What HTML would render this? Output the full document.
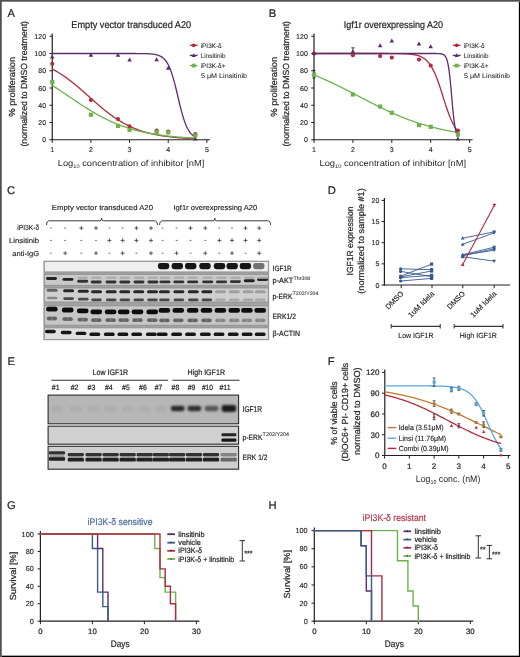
<!DOCTYPE html>
<html><head><meta charset="utf-8"><style>
html,body{margin:0;padding:0;background:#fff;}
#wrap{position:relative;width:520px;height:657px;overflow:hidden;background:#fff;}
svg{position:absolute;left:0;top:0;will-change:transform;}
text{font-family:"Liberation Sans", sans-serif;text-rendering:geometricPrecision;}
</style></head><body><div id="wrap">
<svg width="520" height="657" viewBox="0 0 520 657">
<rect x="0" y="0" width="520" height="657" fill="#fff"/>
<text x="7.60" y="17.00" font-size="11.20" fill="#231f20" stroke="#231f20" stroke-width="0.22" >A</text>
<text x="268.80" y="17.00" font-size="11.20" fill="#231f20" stroke="#231f20" stroke-width="0.22" >B</text>
<text x="7.00" y="193.80" font-size="11.20" fill="#231f20" stroke="#231f20" stroke-width="0.22" >C</text>
<text x="327.80" y="193.60" font-size="11.20" fill="#231f20" stroke="#231f20" stroke-width="0.22" >D</text>
<text x="7.40" y="365.20" font-size="11.20" fill="#231f20" stroke="#231f20" stroke-width="0.22" >E</text>
<text x="327.80" y="365.00" font-size="11.20" fill="#231f20" stroke="#231f20" stroke-width="0.22" >F</text>
<text x="7.00" y="509.40" font-size="11.20" fill="#231f20" stroke="#231f20" stroke-width="0.22" >G</text>
<text x="268.60" y="509.40" font-size="11.20" fill="#231f20" stroke="#231f20" stroke-width="0.22" >H</text>
<text x="71.30" y="28.20" font-size="9.80" fill="#231f20" stroke="#231f20" stroke-width="0.22" textLength="119.80" lengthAdjust="spacingAndGlyphs" >Empty vector transduced A20</text>
<line x1="52.25" y1="33.50" x2="52.25" y2="140.35" stroke="#231f20" stroke-width="1.2" />
<line x1="49.45" y1="139.75" x2="52.25" y2="139.75" stroke="#231f20" stroke-width="1" />
<text x="46.05" y="142.25" font-size="7.00" fill="#231f20" stroke="#231f20" stroke-width="0.14" text-anchor="end" >0</text>
<line x1="49.45" y1="122.50" x2="52.25" y2="122.50" stroke="#231f20" stroke-width="1" />
<text x="46.05" y="125.00" font-size="7.00" fill="#231f20" stroke="#231f20" stroke-width="0.14" text-anchor="end" >20</text>
<line x1="49.45" y1="105.25" x2="52.25" y2="105.25" stroke="#231f20" stroke-width="1" />
<text x="46.05" y="107.75" font-size="7.00" fill="#231f20" stroke="#231f20" stroke-width="0.14" text-anchor="end" >40</text>
<line x1="49.45" y1="88.00" x2="52.25" y2="88.00" stroke="#231f20" stroke-width="1" />
<text x="46.05" y="90.50" font-size="7.00" fill="#231f20" stroke="#231f20" stroke-width="0.14" text-anchor="end" >60</text>
<line x1="49.45" y1="70.75" x2="52.25" y2="70.75" stroke="#231f20" stroke-width="1" />
<text x="46.05" y="73.25" font-size="7.00" fill="#231f20" stroke="#231f20" stroke-width="0.14" text-anchor="end" >80</text>
<line x1="49.45" y1="53.50" x2="52.25" y2="53.50" stroke="#231f20" stroke-width="1" />
<text x="46.05" y="56.00" font-size="7.00" fill="#231f20" stroke="#231f20" stroke-width="0.14" text-anchor="end" >100</text>
<line x1="49.45" y1="36.25" x2="52.25" y2="36.25" stroke="#231f20" stroke-width="1" />
<text x="46.05" y="38.75" font-size="7.00" fill="#231f20" stroke="#231f20" stroke-width="0.14" text-anchor="end" >120</text>
<line x1="51.65" y1="139.75" x2="209.89" y2="139.75" stroke="#231f20" stroke-width="1.2" />
<line x1="52.25" y1="139.75" x2="52.25" y2="142.95" stroke="#231f20" stroke-width="1" />
<text x="52.25" y="152.00" font-size="7.00" fill="#231f20" stroke="#231f20" stroke-width="0.14" text-anchor="middle" >1</text>
<line x1="90.91" y1="139.75" x2="90.91" y2="142.95" stroke="#231f20" stroke-width="1" />
<text x="90.91" y="152.00" font-size="7.00" fill="#231f20" stroke="#231f20" stroke-width="0.14" text-anchor="middle" >2</text>
<line x1="129.57" y1="139.75" x2="129.57" y2="142.95" stroke="#231f20" stroke-width="1" />
<text x="129.57" y="152.00" font-size="7.00" fill="#231f20" stroke="#231f20" stroke-width="0.14" text-anchor="middle" >3</text>
<line x1="168.23" y1="139.75" x2="168.23" y2="142.95" stroke="#231f20" stroke-width="1" />
<text x="168.23" y="152.00" font-size="7.00" fill="#231f20" stroke="#231f20" stroke-width="0.14" text-anchor="middle" >4</text>
<line x1="206.89" y1="139.75" x2="206.89" y2="142.95" stroke="#231f20" stroke-width="1" />
<text x="206.89" y="152.00" font-size="7.00" fill="#231f20" stroke="#231f20" stroke-width="0.14" text-anchor="middle" >5</text>
<text x="57.75" y="166" font-size="8.6" fill="#231f20" textLength="146.6" lengthAdjust="spacingAndGlyphs">Log<tspan font-size="5.2" dy="2">10</tspan><tspan dy="-2"> concentration of inhibitor [nM]</tspan></text>
<text x="15.25" y="86.80" font-size="8.80" fill="#231f20" stroke="#231f20" stroke-width="0.22" text-anchor="middle" textLength="60.00" lengthAdjust="spacingAndGlyphs" transform="rotate(-90 15.25 86.80)" >% proliferation</text>
<text x="27.25" y="83.80" font-size="8.80" fill="#231f20" stroke="#231f20" stroke-width="0.22" text-anchor="middle" textLength="125.50" lengthAdjust="spacingAndGlyphs" transform="rotate(-90 27.25 83.80)" >(normalized to DMSO treatment)</text>
<path d="M52.25,68.97 L53.02,69.39 L53.80,69.80 L54.57,70.23 L55.34,70.67 L56.12,71.11 L56.89,71.57 L57.66,72.03 L58.44,72.50 L59.21,72.97 L59.98,73.46 L60.76,73.96 L61.53,74.46 L62.30,74.97 L63.07,75.49 L63.85,76.02 L64.62,76.56 L65.39,77.10 L66.17,77.65 L66.94,78.22 L67.71,78.78 L68.49,79.36 L69.26,79.94 L70.03,80.53 L70.81,81.13 L71.58,81.74 L72.35,82.35 L73.13,82.96 L73.90,83.59 L74.67,84.22 L75.45,84.85 L76.22,85.50 L76.99,86.14 L77.77,86.79 L78.54,87.45 L79.31,88.11 L80.09,88.78 L80.86,89.45 L81.63,90.12 L82.40,90.79 L83.18,91.47 L83.95,92.16 L84.72,92.84 L85.50,93.52 L86.27,94.21 L87.04,94.90 L87.82,95.59 L88.59,96.28 L89.36,96.97 L90.14,97.66 L90.91,98.35 L91.68,99.04 L92.46,99.73 L93.23,100.41 L94.00,101.09 L94.78,101.78 L95.55,102.46 L96.32,103.13 L97.10,103.80 L97.87,104.47 L98.64,105.14 L99.42,105.80 L100.19,106.46 L100.96,107.11 L101.73,107.75 L102.51,108.40 L103.28,109.03 L104.05,109.66 L104.83,110.29 L105.60,110.90 L106.37,111.51 L107.15,112.12 L107.92,112.72 L108.69,113.31 L109.47,113.89 L110.24,114.47 L111.01,115.03 L111.79,115.60 L112.56,116.15 L113.33,116.69 L114.11,117.23 L114.88,117.76 L115.65,118.28 L116.43,118.79 L117.20,119.29 L117.97,119.79 L118.75,120.28 L119.52,120.75 L120.29,121.22 L121.06,121.68 L121.84,122.14 L122.61,122.58 L123.38,123.02 L124.16,123.45 L124.93,123.86 L125.70,124.28 L126.48,124.68 L127.25,125.07 L128.02,125.46 L128.80,125.83 L129.57,126.20 L130.34,126.57 L131.12,126.92 L131.89,127.26 L132.66,127.60 L133.44,127.93 L134.21,128.26 L134.98,128.57 L135.76,128.88 L136.53,129.18 L137.30,129.47 L138.08,129.76 L138.85,130.04 L139.62,130.31 L140.39,130.58 L141.17,130.83 L141.94,131.09 L142.71,131.33 L143.49,131.57 L144.26,131.81 L145.03,132.04 L145.81,132.26 L146.58,132.47 L147.35,132.68 L148.13,132.89 L148.90,133.09 L149.67,133.28 L150.45,133.47 L151.22,133.65 L151.99,133.83 L152.77,134.01 L153.54,134.18 L154.31,134.34 L155.09,134.50 L155.86,134.66 L156.63,134.81 L157.41,134.96 L158.18,135.10 L158.95,135.24 L159.72,135.37 L160.50,135.50 L161.27,135.63 L162.04,135.75 L162.82,135.87 L163.59,135.99 L164.36,136.10 L165.14,136.21 L165.91,136.32 L166.68,136.43 L167.46,136.53 L168.23,136.62 L169.00,136.72 L169.78,136.81 L170.55,136.90 L171.32,136.99 L172.10,137.07 L172.87,137.15 L173.64,137.23 L174.42,137.31 L175.19,137.38 L175.96,137.46 L176.74,137.53 L177.51,137.60 L178.28,137.66 L179.05,137.73 L179.83,137.79 L180.60,137.85 L181.37,137.91 L182.15,137.96 L182.92,138.02 L183.69,138.07 L184.47,138.13 L185.24,138.18 L186.01,138.22 L186.79,138.27 L187.56,138.32 L188.33,138.36 L189.11,138.40 L189.88,138.45 L190.65,138.49 L191.43,138.53 L192.20,138.56 L192.97,138.60 L193.75,138.64 L194.52,138.67 L195.29,138.70" stroke="#b22a3e" stroke-width="1.3" fill="none" />
<path d="M52.25,85.43 L53.02,85.92 L53.80,86.41 L54.57,86.90 L55.34,87.40 L56.12,87.90 L56.89,88.41 L57.66,88.91 L58.44,89.42 L59.21,89.93 L59.98,90.44 L60.76,90.95 L61.53,91.47 L62.30,91.99 L63.07,92.50 L63.85,93.02 L64.62,93.54 L65.39,94.06 L66.17,94.59 L66.94,95.11 L67.71,95.63 L68.49,96.15 L69.26,96.68 L70.03,97.20 L70.81,97.72 L71.58,98.25 L72.35,98.77 L73.13,99.29 L73.90,99.81 L74.67,100.33 L75.45,100.85 L76.22,101.37 L76.99,101.88 L77.77,102.40 L78.54,102.91 L79.31,103.42 L80.09,103.93 L80.86,104.44 L81.63,104.94 L82.40,105.45 L83.18,105.95 L83.95,106.44 L84.72,106.94 L85.50,107.43 L86.27,107.92 L87.04,108.41 L87.82,108.89 L88.59,109.37 L89.36,109.84 L90.14,110.32 L90.91,110.79 L91.68,111.25 L92.46,111.71 L93.23,112.17 L94.00,112.62 L94.78,113.07 L95.55,113.52 L96.32,113.96 L97.10,114.39 L97.87,114.83 L98.64,115.25 L99.42,115.68 L100.19,116.10 L100.96,116.51 L101.73,116.92 L102.51,117.33 L103.28,117.73 L104.05,118.12 L104.83,118.51 L105.60,118.90 L106.37,119.28 L107.15,119.66 L107.92,120.03 L108.69,120.39 L109.47,120.76 L110.24,121.11 L111.01,121.47 L111.79,121.81 L112.56,122.16 L113.33,122.49 L114.11,122.83 L114.88,123.15 L115.65,123.48 L116.43,123.79 L117.20,124.11 L117.97,124.42 L118.75,124.72 L119.52,125.02 L120.29,125.31 L121.06,125.60 L121.84,125.89 L122.61,126.17 L123.38,126.44 L124.16,126.71 L124.93,126.98 L125.70,127.24 L126.48,127.50 L127.25,127.75 L128.02,128.00 L128.80,128.24 L129.57,128.48 L130.34,128.72 L131.12,128.95 L131.89,129.18 L132.66,129.40 L133.44,129.62 L134.21,129.83 L134.98,130.05 L135.76,130.25 L136.53,130.46 L137.30,130.66 L138.08,130.85 L138.85,131.04 L139.62,131.23 L140.39,131.42 L141.17,131.60 L141.94,131.77 L142.71,131.95 L143.49,132.12 L144.26,132.29 L145.03,132.45 L145.81,132.61 L146.58,132.77 L147.35,132.92 L148.13,133.07 L148.90,133.22 L149.67,133.37 L150.45,133.51 L151.22,133.65 L151.99,133.78 L152.77,133.92 L153.54,134.05 L154.31,134.17 L155.09,134.30 L155.86,134.42 L156.63,134.54 L157.41,134.66 L158.18,134.77 L158.95,134.89 L159.72,135.00 L160.50,135.11 L161.27,135.21 L162.04,135.31 L162.82,135.42 L163.59,135.51 L164.36,135.61 L165.14,135.71 L165.91,135.80 L166.68,135.89 L167.46,135.98 L168.23,136.06 L169.00,136.15 L169.78,136.23 L170.55,136.31 L171.32,136.39 L172.10,136.47 L172.87,136.54 L173.64,136.62 L174.42,136.69 L175.19,136.76 L175.96,136.83 L176.74,136.90 L177.51,136.96 L178.28,137.03 L179.05,137.09 L179.83,137.15 L180.60,137.21 L181.37,137.27 L182.15,137.33 L182.92,137.39 L183.69,137.44 L184.47,137.50 L185.24,137.55 L186.01,137.60 L186.79,137.65 L187.56,137.70 L188.33,137.75 L189.11,137.80 L189.88,137.84 L190.65,137.89 L191.43,137.93 L192.20,137.97 L192.97,138.01 L193.75,138.06 L194.52,138.09 L195.29,138.13" stroke="#6db24a" stroke-width="1.3" fill="none" />
<path d="M52.25,53.50 L53.02,53.50 L53.80,53.50 L54.57,53.50 L55.34,53.50 L56.12,53.50 L56.89,53.50 L57.66,53.50 L58.44,53.50 L59.21,53.50 L59.98,53.50 L60.76,53.50 L61.53,53.50 L62.30,53.50 L63.07,53.50 L63.85,53.50 L64.62,53.50 L65.39,53.50 L66.17,53.50 L66.94,53.50 L67.71,53.50 L68.49,53.50 L69.26,53.50 L70.03,53.50 L70.81,53.50 L71.58,53.50 L72.35,53.50 L73.13,53.50 L73.90,53.50 L74.67,53.50 L75.45,53.50 L76.22,53.50 L76.99,53.50 L77.77,53.50 L78.54,53.50 L79.31,53.50 L80.09,53.50 L80.86,53.50 L81.63,53.50 L82.40,53.50 L83.18,53.50 L83.95,53.50 L84.72,53.50 L85.50,53.50 L86.27,53.50 L87.04,53.50 L87.82,53.50 L88.59,53.50 L89.36,53.50 L90.14,53.50 L90.91,53.50 L91.68,53.50 L92.46,53.50 L93.23,53.50 L94.00,53.50 L94.78,53.50 L95.55,53.50 L96.32,53.50 L97.10,53.50 L97.87,53.50 L98.64,53.50 L99.42,53.50 L100.19,53.50 L100.96,53.50 L101.73,53.50 L102.51,53.50 L103.28,53.50 L104.05,53.50 L104.83,53.50 L105.60,53.50 L106.37,53.50 L107.15,53.50 L107.92,53.50 L108.69,53.50 L109.47,53.50 L110.24,53.50 L111.01,53.50 L111.79,53.50 L112.56,53.50 L113.33,53.50 L114.11,53.50 L114.88,53.50 L115.65,53.50 L116.43,53.50 L117.20,53.50 L117.97,53.50 L118.75,53.50 L119.52,53.50 L120.29,53.50 L121.06,53.50 L121.84,53.50 L122.61,53.50 L123.38,53.50 L124.16,53.50 L124.93,53.50 L125.70,53.50 L126.48,53.50 L127.25,53.50 L128.02,53.50 L128.80,53.51 L129.57,53.51 L130.34,53.51 L131.12,53.51 L131.89,53.51 L132.66,53.51 L133.44,53.51 L134.21,53.52 L134.98,53.52 L135.76,53.52 L136.53,53.53 L137.30,53.53 L138.08,53.53 L138.85,53.54 L139.62,53.55 L140.39,53.55 L141.17,53.56 L141.94,53.57 L142.71,53.59 L143.49,53.60 L144.26,53.62 L145.03,53.63 L145.81,53.66 L146.58,53.68 L147.35,53.71 L148.13,53.75 L148.90,53.79 L149.67,53.84 L150.45,53.89 L151.22,53.95 L151.99,54.03 L152.77,54.11 L153.54,54.21 L154.31,54.33 L155.09,54.46 L155.86,54.62 L156.63,54.80 L157.41,55.01 L158.18,55.25 L158.95,55.53 L159.72,55.86 L160.50,56.23 L161.27,56.67 L162.04,57.16 L162.82,57.74 L163.59,58.39 L164.36,59.14 L165.14,60.00 L165.91,60.97 L166.68,62.08 L167.46,63.32 L168.23,64.73 L169.00,66.29 L169.78,68.04 L170.55,69.97 L171.32,72.09 L172.10,74.40 L172.87,76.90 L173.64,79.58 L174.42,82.43 L175.19,85.42 L175.96,88.53 L176.74,91.73 L177.51,94.99 L178.28,98.26 L179.05,101.52 L179.83,104.72 L180.60,107.83 L181.37,110.82 L182.15,113.67 L182.92,116.35 L183.69,118.85 L184.47,121.16 L185.24,123.28 L186.01,125.21 L186.79,126.96 L187.56,128.52 L188.33,129.93 L189.11,131.17 L189.88,132.28 L190.65,133.25 L191.43,134.11 L192.20,134.86 L192.97,135.51 L193.75,136.09 L194.52,136.58 L195.29,137.02" stroke="#5b2c6f" stroke-width="1.3" fill="none" />
<circle cx="52.25" cy="63.85" r="2.1" fill="#b22a3e"/>
<circle cx="90.91" cy="100.07" r="2.1" fill="#b22a3e"/>
<circle cx="117.97" cy="119.05" r="2.1" fill="#b22a3e"/>
<circle cx="129.57" cy="126.38" r="2.1" fill="#b22a3e"/>
<circle cx="156.63" cy="130.69" r="2.1" fill="#b22a3e"/>
<circle cx="168.23" cy="131.56" r="2.1" fill="#b22a3e"/>
<circle cx="195.29" cy="134.14" r="2.1" fill="#b22a3e"/>
<path d="M49.95,58.55 L54.55,58.55 L52.25,54.55 Z" fill="#5b2c6f"/>
<path d="M88.61,56.82 L93.21,56.82 L90.91,52.82 Z" fill="#5b2c6f"/>
<path d="M115.67,56.82 L120.27,56.82 L117.97,52.82 Z" fill="#5b2c6f"/>
<path d="M127.27,61.57 L131.87,61.57 L129.57,57.57 Z" fill="#5b2c6f"/>
<path d="M154.33,61.14 L158.93,61.14 L156.63,57.14 Z" fill="#5b2c6f"/>
<path d="M165.93,69.76 L170.53,69.76 L168.23,65.76 Z" fill="#5b2c6f"/>
<path d="M192.99,140.49 L197.59,140.49 L195.29,136.49 Z" fill="#5b2c6f"/>
<rect x="50.15" y="79.86" width="4.20" height="4.20" fill="#6db24a" stroke="none" stroke-width="0" />
<rect x="88.81" y="112.64" width="4.20" height="4.20" fill="#6db24a" stroke="none" stroke-width="0" />
<rect x="115.87" y="123.85" width="4.20" height="4.20" fill="#6db24a" stroke="none" stroke-width="0" />
<rect x="127.47" y="127.73" width="4.20" height="4.20" fill="#6db24a" stroke="none" stroke-width="0" />
<rect x="154.53" y="129.89" width="4.20" height="4.20" fill="#6db24a" stroke="none" stroke-width="0" />
<rect x="166.13" y="130.32" width="4.20" height="4.20" fill="#6db24a" stroke="none" stroke-width="0" />
<rect x="193.19" y="133.34" width="4.20" height="4.20" fill="#6db24a" stroke="none" stroke-width="0" />
<line x1="189.80" y1="45.30" x2="197.60" y2="45.30" stroke="#b22a3e" stroke-width="1.3" />
<circle cx="193.70" cy="45.30" r="1.9" fill="#b22a3e"/>
<text x="200.70" y="47.60" font-size="6.40" fill="#231f20" stroke="#231f20" stroke-width="0.06" >iPI3K-&#948;</text>
<line x1="189.80" y1="55.40" x2="197.60" y2="55.40" stroke="#5b2c6f" stroke-width="1.3" />
<path d="M191.60,56.90 L195.80,56.90 L193.70,53.20 Z" fill="#5b2c6f"/>
<text x="200.70" y="57.70" font-size="6.40" fill="#231f20" stroke="#231f20" stroke-width="0.06" >Linsitinib</text>
<line x1="189.80" y1="65.60" x2="197.60" y2="65.60" stroke="#6db24a" stroke-width="1.3" />
<rect x="191.80" y="63.70" width="3.80" height="3.80" fill="#6db24a" stroke="none" stroke-width="0" />
<text x="200.70" y="67.90" font-size="6.40" fill="#231f20" stroke="#231f20" stroke-width="0.06" >iPI3K-&#948;+</text>
<text x="201.00" y="77.60" font-size="6.40" fill="#231f20" stroke="#231f20" stroke-width="0.06" textLength="46.00" lengthAdjust="spacingAndGlyphs" >5 &#956;M Linsitinib</text>
<text x="343.75" y="27.60" font-size="9.80" fill="#231f20" stroke="#231f20" stroke-width="0.22" textLength="99.25" lengthAdjust="spacingAndGlyphs" >Igf1r overexpressing A20</text>
<line x1="314.00" y1="33.50" x2="314.00" y2="140.35" stroke="#231f20" stroke-width="1.2" />
<line x1="311.20" y1="139.75" x2="314.00" y2="139.75" stroke="#231f20" stroke-width="1" />
<text x="307.80" y="142.25" font-size="7.00" fill="#231f20" stroke="#231f20" stroke-width="0.14" text-anchor="end" >0</text>
<line x1="311.20" y1="122.50" x2="314.00" y2="122.50" stroke="#231f20" stroke-width="1" />
<text x="307.80" y="125.00" font-size="7.00" fill="#231f20" stroke="#231f20" stroke-width="0.14" text-anchor="end" >20</text>
<line x1="311.20" y1="105.25" x2="314.00" y2="105.25" stroke="#231f20" stroke-width="1" />
<text x="307.80" y="107.75" font-size="7.00" fill="#231f20" stroke="#231f20" stroke-width="0.14" text-anchor="end" >40</text>
<line x1="311.20" y1="88.00" x2="314.00" y2="88.00" stroke="#231f20" stroke-width="1" />
<text x="307.80" y="90.50" font-size="7.00" fill="#231f20" stroke="#231f20" stroke-width="0.14" text-anchor="end" >60</text>
<line x1="311.20" y1="70.75" x2="314.00" y2="70.75" stroke="#231f20" stroke-width="1" />
<text x="307.80" y="73.25" font-size="7.00" fill="#231f20" stroke="#231f20" stroke-width="0.14" text-anchor="end" >80</text>
<line x1="311.20" y1="53.50" x2="314.00" y2="53.50" stroke="#231f20" stroke-width="1" />
<text x="307.80" y="56.00" font-size="7.00" fill="#231f20" stroke="#231f20" stroke-width="0.14" text-anchor="end" >100</text>
<line x1="311.20" y1="36.25" x2="314.00" y2="36.25" stroke="#231f20" stroke-width="1" />
<text x="307.80" y="38.75" font-size="7.00" fill="#231f20" stroke="#231f20" stroke-width="0.14" text-anchor="end" >120</text>
<line x1="313.40" y1="139.75" x2="472.60" y2="139.75" stroke="#231f20" stroke-width="1.2" />
<line x1="314.00" y1="139.75" x2="314.00" y2="142.95" stroke="#231f20" stroke-width="1" />
<text x="314.00" y="152.00" font-size="7.00" fill="#231f20" stroke="#231f20" stroke-width="0.14" text-anchor="middle" >1</text>
<line x1="352.90" y1="139.75" x2="352.90" y2="142.95" stroke="#231f20" stroke-width="1" />
<text x="352.90" y="152.00" font-size="7.00" fill="#231f20" stroke="#231f20" stroke-width="0.14" text-anchor="middle" >2</text>
<line x1="391.80" y1="139.75" x2="391.80" y2="142.95" stroke="#231f20" stroke-width="1" />
<text x="391.80" y="152.00" font-size="7.00" fill="#231f20" stroke="#231f20" stroke-width="0.14" text-anchor="middle" >3</text>
<line x1="430.70" y1="139.75" x2="430.70" y2="142.95" stroke="#231f20" stroke-width="1" />
<text x="430.70" y="152.00" font-size="7.00" fill="#231f20" stroke="#231f20" stroke-width="0.14" text-anchor="middle" >4</text>
<line x1="469.60" y1="139.75" x2="469.60" y2="142.95" stroke="#231f20" stroke-width="1" />
<text x="469.60" y="152.00" font-size="7.00" fill="#231f20" stroke="#231f20" stroke-width="0.14" text-anchor="middle" >5</text>
<text x="319.50" y="166" font-size="8.6" fill="#231f20" textLength="146.6" lengthAdjust="spacingAndGlyphs">Log<tspan font-size="5.2" dy="2">10</tspan><tspan dy="-2"> concentration of inhibitor [nM]</tspan></text>
<text x="277.00" y="86.80" font-size="8.80" fill="#231f20" stroke="#231f20" stroke-width="0.22" text-anchor="middle" textLength="60.00" lengthAdjust="spacingAndGlyphs" transform="rotate(-90 277.00 86.80)" >% proliferation</text>
<text x="289.00" y="83.80" font-size="8.80" fill="#231f20" stroke="#231f20" stroke-width="0.22" text-anchor="middle" textLength="125.50" lengthAdjust="spacingAndGlyphs" transform="rotate(-90 289.00 83.80)" >(normalized to DMSO treatment)</text>
<path d="M314.00,75.07 L314.78,75.38 L315.56,75.69 L316.33,76.00 L317.11,76.31 L317.89,76.63 L318.67,76.95 L319.45,77.27 L320.22,77.60 L321.00,77.93 L321.78,78.26 L322.56,78.59 L323.34,78.93 L324.11,79.27 L324.89,79.61 L325.67,79.95 L326.45,80.30 L327.23,80.65 L328.00,81.00 L328.78,81.35 L329.56,81.71 L330.34,82.07 L331.12,82.43 L331.89,82.79 L332.67,83.16 L333.45,83.53 L334.23,83.90 L335.01,84.27 L335.78,84.64 L336.56,85.02 L337.34,85.40 L338.12,85.78 L338.90,86.16 L339.67,86.54 L340.45,86.92 L341.23,87.31 L342.01,87.70 L342.79,88.09 L343.56,88.48 L344.34,88.87 L345.12,89.27 L345.90,89.66 L346.68,90.06 L347.45,90.45 L348.23,90.85 L349.01,91.25 L349.79,91.65 L350.57,92.05 L351.34,92.45 L352.12,92.86 L352.90,93.26 L353.68,93.66 L354.46,94.07 L355.23,94.47 L356.01,94.88 L356.79,95.29 L357.57,95.69 L358.35,96.10 L359.12,96.50 L359.90,96.91 L360.68,97.32 L361.46,97.72 L362.24,98.13 L363.01,98.53 L363.79,98.94 L364.57,99.34 L365.35,99.75 L366.13,100.15 L366.90,100.55 L367.68,100.96 L368.46,101.36 L369.24,101.76 L370.02,102.16 L370.79,102.56 L371.57,102.96 L372.35,103.35 L373.13,103.75 L373.91,104.14 L374.68,104.54 L375.46,104.93 L376.24,105.32 L377.02,105.71 L377.80,106.09 L378.57,106.48 L379.35,106.86 L380.13,107.25 L380.91,107.63 L381.69,108.01 L382.46,108.38 L383.24,108.76 L384.02,109.13 L384.80,109.50 L385.58,109.87 L386.35,110.24 L387.13,110.60 L387.91,110.96 L388.69,111.32 L389.47,111.68 L390.24,112.04 L391.02,112.39 L391.80,112.74 L392.58,113.09 L393.36,113.43 L394.13,113.78 L394.91,114.12 L395.69,114.46 L396.47,114.79 L397.25,115.12 L398.02,115.45 L398.80,115.78 L399.58,116.11 L400.36,116.43 L401.14,116.75 L401.91,117.06 L402.69,117.38 L403.47,117.69 L404.25,118.00 L405.03,118.30 L405.80,118.60 L406.58,118.90 L407.36,119.20 L408.14,119.49 L408.92,119.78 L409.69,120.07 L410.47,120.35 L411.25,120.64 L412.03,120.91 L412.81,121.19 L413.58,121.46 L414.36,121.73 L415.14,122.00 L415.92,122.26 L416.70,122.53 L417.47,122.78 L418.25,123.04 L419.03,123.29 L419.81,123.54 L420.59,123.79 L421.36,124.03 L422.14,124.27 L422.92,124.51 L423.70,124.74 L424.48,124.98 L425.25,125.21 L426.03,125.43 L426.81,125.66 L427.59,125.88 L428.37,126.09 L429.14,126.31 L429.92,126.52 L430.70,126.73 L431.48,126.94 L432.26,127.14 L433.03,127.34 L433.81,127.54 L434.59,127.74 L435.37,127.93 L436.15,128.12 L436.92,128.31 L437.70,128.50 L438.48,128.68 L439.26,128.86 L440.04,129.04 L440.81,129.21 L441.59,129.39 L442.37,129.56 L443.15,129.72 L443.93,129.89 L444.70,130.05 L445.48,130.21 L446.26,130.37 L447.04,130.53 L447.82,130.68 L448.59,130.83 L449.37,130.98 L450.15,131.13 L450.93,131.28 L451.71,131.42 L452.48,131.56 L453.26,131.70 L454.04,131.84 L454.82,131.97 L455.60,132.10 L456.37,132.23 L457.15,132.36 L457.93,132.49" stroke="#6db24a" stroke-width="1.3" fill="none" />
<path d="M314.00,53.50 L314.78,53.50 L315.56,53.50 L316.33,53.50 L317.11,53.50 L317.89,53.50 L318.67,53.50 L319.45,53.50 L320.22,53.50 L321.00,53.50 L321.78,53.50 L322.56,53.50 L323.34,53.50 L324.11,53.50 L324.89,53.50 L325.67,53.50 L326.45,53.50 L327.23,53.50 L328.00,53.50 L328.78,53.50 L329.56,53.50 L330.34,53.50 L331.12,53.50 L331.89,53.50 L332.67,53.50 L333.45,53.50 L334.23,53.50 L335.01,53.50 L335.78,53.50 L336.56,53.50 L337.34,53.50 L338.12,53.50 L338.90,53.50 L339.67,53.50 L340.45,53.50 L341.23,53.50 L342.01,53.50 L342.79,53.50 L343.56,53.50 L344.34,53.50 L345.12,53.50 L345.90,53.50 L346.68,53.50 L347.45,53.50 L348.23,53.50 L349.01,53.50 L349.79,53.50 L350.57,53.50 L351.34,53.50 L352.12,53.50 L352.90,53.50 L353.68,53.50 L354.46,53.50 L355.23,53.50 L356.01,53.50 L356.79,53.50 L357.57,53.50 L358.35,53.50 L359.12,53.50 L359.90,53.50 L360.68,53.50 L361.46,53.50 L362.24,53.50 L363.01,53.50 L363.79,53.50 L364.57,53.50 L365.35,53.50 L366.13,53.50 L366.90,53.50 L367.68,53.50 L368.46,53.50 L369.24,53.50 L370.02,53.50 L370.79,53.50 L371.57,53.50 L372.35,53.50 L373.13,53.50 L373.91,53.50 L374.68,53.50 L375.46,53.50 L376.24,53.50 L377.02,53.51 L377.80,53.51 L378.57,53.51 L379.35,53.51 L380.13,53.51 L380.91,53.51 L381.69,53.51 L382.46,53.51 L383.24,53.51 L384.02,53.51 L384.80,53.52 L385.58,53.52 L386.35,53.52 L387.13,53.52 L387.91,53.53 L388.69,53.53 L389.47,53.53 L390.24,53.54 L391.02,53.54 L391.80,53.55 L392.58,53.55 L393.36,53.56 L394.13,53.56 L394.91,53.57 L395.69,53.58 L396.47,53.59 L397.25,53.60 L398.02,53.61 L398.80,53.63 L399.58,53.64 L400.36,53.66 L401.14,53.68 L401.91,53.70 L402.69,53.73 L403.47,53.75 L404.25,53.78 L405.03,53.82 L405.80,53.86 L406.58,53.90 L407.36,53.95 L408.14,54.00 L408.92,54.06 L409.69,54.13 L410.47,54.20 L411.25,54.29 L412.03,54.38 L412.81,54.49 L413.58,54.61 L414.36,54.74 L415.14,54.89 L415.92,55.06 L416.70,55.24 L417.47,55.45 L418.25,55.68 L419.03,55.94 L419.81,56.22 L420.59,56.54 L421.36,56.90 L422.14,57.29 L422.92,57.73 L423.70,58.22 L424.48,58.76 L425.25,59.35 L426.03,60.01 L426.81,60.73 L427.59,61.53 L428.37,62.41 L429.14,63.36 L429.92,64.41 L430.70,65.55 L431.48,66.79 L432.26,68.13 L433.03,69.58 L433.81,71.13 L434.59,72.80 L435.37,74.57 L436.15,76.45 L436.92,78.43 L437.70,80.51 L438.48,82.68 L439.26,84.93 L440.04,87.26 L440.81,89.64 L441.59,92.07 L442.37,94.52 L443.15,97.00 L443.93,99.46 L444.70,101.91 L445.48,104.33 L446.26,106.70 L447.04,109.00 L447.82,111.23 L448.59,113.38 L449.37,115.43 L450.15,117.38 L450.93,119.23 L451.71,120.97 L452.48,122.60 L453.26,124.12 L454.04,125.53 L454.82,126.84 L455.60,128.05 L456.37,129.16 L457.15,130.18 L457.93,131.11" stroke="#b22a3e" stroke-width="1.3" fill="none" />
<path d="M314.00,53.50 L314.78,53.50 L315.56,53.50 L316.33,53.50 L317.11,53.50 L317.89,53.50 L318.67,53.50 L319.45,53.50 L320.22,53.50 L321.00,53.50 L321.78,53.50 L322.56,53.50 L323.34,53.50 L324.11,53.50 L324.89,53.50 L325.67,53.50 L326.45,53.50 L327.23,53.50 L328.00,53.50 L328.78,53.50 L329.56,53.50 L330.34,53.50 L331.12,53.50 L331.89,53.50 L332.67,53.50 L333.45,53.50 L334.23,53.50 L335.01,53.50 L335.78,53.50 L336.56,53.50 L337.34,53.50 L338.12,53.50 L338.90,53.50 L339.67,53.50 L340.45,53.50 L341.23,53.50 L342.01,53.50 L342.79,53.50 L343.56,53.50 L344.34,53.50 L345.12,53.50 L345.90,53.50 L346.68,53.50 L347.45,53.50 L348.23,53.50 L349.01,53.50 L349.79,53.50 L350.57,53.50 L351.34,53.50 L352.12,53.50 L352.90,53.50 L353.68,53.50 L354.46,53.50 L355.23,53.50 L356.01,53.50 L356.79,53.50 L357.57,53.50 L358.35,53.50 L359.12,53.50 L359.90,53.50 L360.68,53.50 L361.46,53.50 L362.24,53.50 L363.01,53.50 L363.79,53.50 L364.57,53.50 L365.35,53.50 L366.13,53.50 L366.90,53.50 L367.68,53.50 L368.46,53.50 L369.24,53.50 L370.02,53.50 L370.79,53.50 L371.57,53.50 L372.35,53.50 L373.13,53.50 L373.91,53.50 L374.68,53.50 L375.46,53.50 L376.24,53.50 L377.02,53.50 L377.80,53.50 L378.57,53.50 L379.35,53.50 L380.13,53.50 L380.91,53.50 L381.69,53.50 L382.46,53.50 L383.24,53.50 L384.02,53.50 L384.80,53.50 L385.58,53.50 L386.35,53.50 L387.13,53.50 L387.91,53.50 L388.69,53.50 L389.47,53.50 L390.24,53.50 L391.02,53.50 L391.80,53.50 L392.58,53.50 L393.36,53.50 L394.13,53.50 L394.91,53.50 L395.69,53.50 L396.47,53.50 L397.25,53.50 L398.02,53.50 L398.80,53.50 L399.58,53.50 L400.36,53.50 L401.14,53.50 L401.91,53.50 L402.69,53.50 L403.47,53.50 L404.25,53.50 L405.03,53.50 L405.80,53.50 L406.58,53.50 L407.36,53.50 L408.14,53.50 L408.92,53.50 L409.69,53.50 L410.47,53.50 L411.25,53.50 L412.03,53.50 L412.81,53.50 L413.58,53.50 L414.36,53.50 L415.14,53.50 L415.92,53.50 L416.70,53.50 L417.47,53.50 L418.25,53.50 L419.03,53.50 L419.81,53.50 L420.59,53.50 L421.36,53.50 L422.14,53.50 L422.92,53.50 L423.70,53.50 L424.48,53.50 L425.25,53.50 L426.03,53.50 L426.81,53.50 L427.59,53.50 L428.37,53.50 L429.14,53.50 L429.92,53.50 L430.70,53.50 L431.48,53.50 L432.26,53.50 L433.03,53.50 L433.81,53.51 L434.59,53.51 L435.37,53.51 L436.15,53.52 L436.92,53.53 L437.70,53.55 L438.48,53.58 L439.26,53.61 L440.04,53.67 L440.81,53.76 L441.59,53.89 L442.37,54.09 L443.15,54.39 L443.93,54.85 L444.70,55.52 L445.48,56.52 L446.26,57.99 L447.04,60.12 L447.82,63.14 L448.59,67.30 L449.37,72.81 L450.15,79.71 L450.93,87.81 L451.71,96.62 L452.48,105.44 L453.26,113.54 L454.04,120.44 L454.82,125.95 L455.60,130.11 L456.37,133.13 L457.15,135.26 L457.93,136.73" stroke="#5b2c6f" stroke-width="1.3" fill="none" />
<line x1="314.00" y1="70.32" x2="314.00" y2="78.08" stroke="#333" stroke-width="0.9" />
<line x1="312.40" y1="70.32" x2="315.60" y2="70.32" stroke="#333" stroke-width="0.9" />
<line x1="312.40" y1="78.08" x2="315.60" y2="78.08" stroke="#333" stroke-width="0.9" />
<line x1="352.90" y1="47.81" x2="352.90" y2="53.07" stroke="#333" stroke-width="0.9" />
<line x1="351.30" y1="47.81" x2="354.50" y2="47.81" stroke="#333" stroke-width="0.9" />
<line x1="351.30" y1="53.07" x2="354.50" y2="53.07" stroke="#333" stroke-width="0.9" />
<rect x="311.90" y="72.53" width="4.20" height="4.20" fill="#6db24a" stroke="none" stroke-width="0" />
<rect x="350.80" y="92.37" width="4.20" height="4.20" fill="#6db24a" stroke="none" stroke-width="0" />
<rect x="378.03" y="104.44" width="4.20" height="4.20" fill="#6db24a" stroke="none" stroke-width="0" />
<rect x="389.70" y="110.65" width="4.20" height="4.20" fill="#6db24a" stroke="none" stroke-width="0" />
<rect x="416.93" y="122.99" width="4.20" height="4.20" fill="#6db24a" stroke="none" stroke-width="0" />
<rect x="428.60" y="124.71" width="4.20" height="4.20" fill="#6db24a" stroke="none" stroke-width="0" />
<rect x="455.83" y="132.47" width="4.20" height="4.20" fill="#6db24a" stroke="none" stroke-width="0" />
<circle cx="314.00" cy="53.50" r="2.1" fill="#b22a3e"/>
<circle cx="352.90" cy="55.22" r="2.1" fill="#b22a3e"/>
<circle cx="380.13" cy="56.09" r="2.1" fill="#b22a3e"/>
<circle cx="391.80" cy="57.55" r="2.1" fill="#b22a3e"/>
<circle cx="419.03" cy="59.54" r="2.1" fill="#b22a3e"/>
<circle cx="430.70" cy="65.58" r="2.1" fill="#b22a3e"/>
<circle cx="457.93" cy="130.52" r="2.1" fill="#b22a3e"/>
<path d="M311.70,55.10 L316.30,55.10 L314.00,51.10 Z" fill="#5b2c6f"/>
<path d="M350.60,53.37 L355.20,53.37 L352.90,49.37 Z" fill="#5b2c6f"/>
<path d="M377.83,47.34 L382.43,47.34 L380.13,43.34 Z" fill="#5b2c6f"/>
<path d="M389.50,42.59 L394.10,42.59 L391.80,38.59 Z" fill="#5b2c6f"/>
<path d="M416.73,45.61 L421.33,45.61 L419.03,41.61 Z" fill="#5b2c6f"/>
<path d="M428.40,48.20 L433.00,48.20 L430.70,44.20 Z" fill="#5b2c6f"/>
<path d="M455.63,140.49 L460.23,140.49 L457.93,136.49 Z" fill="#5b2c6f"/>
<line x1="452.80" y1="45.30" x2="460.60" y2="45.30" stroke="#b22a3e" stroke-width="1.3" />
<circle cx="456.70" cy="45.30" r="1.9" fill="#b22a3e"/>
<text x="463.70" y="47.60" font-size="6.40" fill="#231f20" stroke="#231f20" stroke-width="0.06" >iPI3K-&#948;</text>
<line x1="452.80" y1="55.40" x2="460.60" y2="55.40" stroke="#5b2c6f" stroke-width="1.3" />
<path d="M454.60,56.90 L458.80,56.90 L456.70,53.20 Z" fill="#5b2c6f"/>
<text x="463.70" y="57.70" font-size="6.40" fill="#231f20" stroke="#231f20" stroke-width="0.06" >Linsitinib</text>
<line x1="452.80" y1="65.60" x2="460.60" y2="65.60" stroke="#6db24a" stroke-width="1.3" />
<rect x="454.80" y="63.70" width="3.80" height="3.80" fill="#6db24a" stroke="none" stroke-width="0" />
<text x="463.70" y="67.90" font-size="6.40" fill="#231f20" stroke="#231f20" stroke-width="0.06" >iPI3K-&#948;+</text>
<text x="464.00" y="77.60" font-size="6.40" fill="#231f20" stroke="#231f20" stroke-width="0.06" textLength="46.00" lengthAdjust="spacingAndGlyphs" >5 &#956;M Linsitinib</text>
<text x="51.80" y="210.30" font-size="7.30" fill="#231f20" stroke="#231f20" stroke-width="0.14" textLength="101.20" lengthAdjust="spacingAndGlyphs" >Empty vector transduced A20</text>
<text x="173.50" y="210.30" font-size="7.30" fill="#231f20" stroke="#231f20" stroke-width="0.14" textLength="83.70" lengthAdjust="spacingAndGlyphs" >Igf1r overexpressing A20</text>
<path d="M46.60,225.00 Q46.60,220.80 49.60,220.80 L99.80,220.80 Q101.60,220.80 101.60,218.20 Q101.60,220.80 103.40,220.80 L154.40,220.80 Q157.40,220.80 157.40,225.00" stroke="#3a3a3a" stroke-width="1.0" fill="none" />
<path d="M159.60,225.00 Q159.60,220.80 162.60,220.80 L213.00,220.80 Q214.80,220.80 214.80,218.20 Q214.80,220.80 216.60,220.80 L267.60,220.80 Q270.60,220.80 270.60,225.00" stroke="#3a3a3a" stroke-width="1.0" fill="none" />
<text x="17.20" y="230.40" font-size="7.10" fill="#231f20" stroke="#231f20" stroke-width="0.14" textLength="22.00" lengthAdjust="spacingAndGlyphs" >iPI3K-&#948;</text>
<line x1="49.90" y1="228.10" x2="51.70" y2="228.10" stroke="#444" stroke-width="0.8" />
<line x1="64.30" y1="228.10" x2="66.10" y2="228.10" stroke="#444" stroke-width="0.8" />
<line x1="79.30" y1="228.10" x2="83.30" y2="228.10" stroke="#333" stroke-width="0.8" />
<line x1="81.30" y1="226.10" x2="81.30" y2="230.10" stroke="#333" stroke-width="0.8" />
<line x1="94.00" y1="228.10" x2="98.00" y2="228.10" stroke="#333" stroke-width="0.8" />
<line x1="96.00" y1="226.10" x2="96.00" y2="230.10" stroke="#333" stroke-width="0.8" />
<line x1="108.50" y1="228.10" x2="110.30" y2="228.10" stroke="#444" stroke-width="0.8" />
<line x1="121.70" y1="228.10" x2="123.50" y2="228.10" stroke="#444" stroke-width="0.8" />
<line x1="134.40" y1="228.10" x2="138.40" y2="228.10" stroke="#333" stroke-width="0.8" />
<line x1="136.40" y1="226.10" x2="136.40" y2="230.10" stroke="#333" stroke-width="0.8" />
<line x1="149.00" y1="228.10" x2="153.00" y2="228.10" stroke="#333" stroke-width="0.8" />
<line x1="151.00" y1="226.10" x2="151.00" y2="230.10" stroke="#333" stroke-width="0.8" />
<line x1="161.70" y1="228.10" x2="163.50" y2="228.10" stroke="#444" stroke-width="0.8" />
<line x1="175.70" y1="228.10" x2="177.50" y2="228.10" stroke="#444" stroke-width="0.8" />
<line x1="188.50" y1="228.10" x2="192.50" y2="228.10" stroke="#333" stroke-width="0.8" />
<line x1="190.50" y1="226.10" x2="190.50" y2="230.10" stroke="#333" stroke-width="0.8" />
<line x1="203.30" y1="228.10" x2="207.30" y2="228.10" stroke="#333" stroke-width="0.8" />
<line x1="205.30" y1="226.10" x2="205.30" y2="230.10" stroke="#333" stroke-width="0.8" />
<line x1="218.50" y1="228.10" x2="220.30" y2="228.10" stroke="#444" stroke-width="0.8" />
<line x1="231.10" y1="228.10" x2="232.90" y2="228.10" stroke="#444" stroke-width="0.8" />
<line x1="243.50" y1="228.10" x2="247.50" y2="228.10" stroke="#333" stroke-width="0.8" />
<line x1="245.50" y1="226.10" x2="245.50" y2="230.10" stroke="#333" stroke-width="0.8" />
<line x1="257.20" y1="228.10" x2="261.20" y2="228.10" stroke="#333" stroke-width="0.8" />
<line x1="259.20" y1="226.10" x2="259.20" y2="230.10" stroke="#333" stroke-width="0.8" />
<text x="8.90" y="242.70" font-size="7.10" fill="#231f20" stroke="#231f20" stroke-width="0.14" textLength="30.30" lengthAdjust="spacingAndGlyphs" >Linsitinib</text>
<line x1="49.90" y1="240.40" x2="51.70" y2="240.40" stroke="#444" stroke-width="0.8" />
<line x1="64.30" y1="240.40" x2="66.10" y2="240.40" stroke="#444" stroke-width="0.8" />
<line x1="80.40" y1="240.40" x2="82.20" y2="240.40" stroke="#444" stroke-width="0.8" />
<line x1="95.10" y1="240.40" x2="96.90" y2="240.40" stroke="#444" stroke-width="0.8" />
<line x1="107.40" y1="240.40" x2="111.40" y2="240.40" stroke="#333" stroke-width="0.8" />
<line x1="109.40" y1="238.40" x2="109.40" y2="242.40" stroke="#333" stroke-width="0.8" />
<line x1="120.60" y1="240.40" x2="124.60" y2="240.40" stroke="#333" stroke-width="0.8" />
<line x1="122.60" y1="238.40" x2="122.60" y2="242.40" stroke="#333" stroke-width="0.8" />
<line x1="134.40" y1="240.40" x2="138.40" y2="240.40" stroke="#333" stroke-width="0.8" />
<line x1="136.40" y1="238.40" x2="136.40" y2="242.40" stroke="#333" stroke-width="0.8" />
<line x1="149.00" y1="240.40" x2="153.00" y2="240.40" stroke="#333" stroke-width="0.8" />
<line x1="151.00" y1="238.40" x2="151.00" y2="242.40" stroke="#333" stroke-width="0.8" />
<line x1="161.70" y1="240.40" x2="163.50" y2="240.40" stroke="#444" stroke-width="0.8" />
<line x1="175.70" y1="240.40" x2="177.50" y2="240.40" stroke="#444" stroke-width="0.8" />
<line x1="189.60" y1="240.40" x2="191.40" y2="240.40" stroke="#444" stroke-width="0.8" />
<line x1="204.40" y1="240.40" x2="206.20" y2="240.40" stroke="#444" stroke-width="0.8" />
<line x1="217.40" y1="240.40" x2="221.40" y2="240.40" stroke="#333" stroke-width="0.8" />
<line x1="219.40" y1="238.40" x2="219.40" y2="242.40" stroke="#333" stroke-width="0.8" />
<line x1="230.00" y1="240.40" x2="234.00" y2="240.40" stroke="#333" stroke-width="0.8" />
<line x1="232.00" y1="238.40" x2="232.00" y2="242.40" stroke="#333" stroke-width="0.8" />
<line x1="243.50" y1="240.40" x2="247.50" y2="240.40" stroke="#333" stroke-width="0.8" />
<line x1="245.50" y1="238.40" x2="245.50" y2="242.40" stroke="#333" stroke-width="0.8" />
<line x1="257.20" y1="240.40" x2="261.20" y2="240.40" stroke="#333" stroke-width="0.8" />
<line x1="259.20" y1="238.40" x2="259.20" y2="242.40" stroke="#333" stroke-width="0.8" />
<text x="12.30" y="255.50" font-size="7.10" fill="#231f20" stroke="#231f20" stroke-width="0.14" textLength="26.90" lengthAdjust="spacingAndGlyphs" >anti-IgG</text>
<line x1="49.90" y1="253.20" x2="51.70" y2="253.20" stroke="#444" stroke-width="0.8" />
<line x1="63.20" y1="253.20" x2="67.20" y2="253.20" stroke="#333" stroke-width="0.8" />
<line x1="65.20" y1="251.20" x2="65.20" y2="255.20" stroke="#333" stroke-width="0.8" />
<line x1="80.40" y1="253.20" x2="82.20" y2="253.20" stroke="#444" stroke-width="0.8" />
<line x1="94.00" y1="253.20" x2="98.00" y2="253.20" stroke="#333" stroke-width="0.8" />
<line x1="96.00" y1="251.20" x2="96.00" y2="255.20" stroke="#333" stroke-width="0.8" />
<line x1="108.50" y1="253.20" x2="110.30" y2="253.20" stroke="#444" stroke-width="0.8" />
<line x1="120.60" y1="253.20" x2="124.60" y2="253.20" stroke="#333" stroke-width="0.8" />
<line x1="122.60" y1="251.20" x2="122.60" y2="255.20" stroke="#333" stroke-width="0.8" />
<line x1="135.50" y1="253.20" x2="137.30" y2="253.20" stroke="#444" stroke-width="0.8" />
<line x1="149.00" y1="253.20" x2="153.00" y2="253.20" stroke="#333" stroke-width="0.8" />
<line x1="151.00" y1="251.20" x2="151.00" y2="255.20" stroke="#333" stroke-width="0.8" />
<line x1="161.70" y1="253.20" x2="163.50" y2="253.20" stroke="#444" stroke-width="0.8" />
<line x1="174.60" y1="253.20" x2="178.60" y2="253.20" stroke="#333" stroke-width="0.8" />
<line x1="176.60" y1="251.20" x2="176.60" y2="255.20" stroke="#333" stroke-width="0.8" />
<line x1="189.60" y1="253.20" x2="191.40" y2="253.20" stroke="#444" stroke-width="0.8" />
<line x1="203.30" y1="253.20" x2="207.30" y2="253.20" stroke="#333" stroke-width="0.8" />
<line x1="205.30" y1="251.20" x2="205.30" y2="255.20" stroke="#333" stroke-width="0.8" />
<line x1="218.50" y1="253.20" x2="220.30" y2="253.20" stroke="#444" stroke-width="0.8" />
<line x1="230.00" y1="253.20" x2="234.00" y2="253.20" stroke="#333" stroke-width="0.8" />
<line x1="232.00" y1="251.20" x2="232.00" y2="255.20" stroke="#333" stroke-width="0.8" />
<line x1="244.60" y1="253.20" x2="246.40" y2="253.20" stroke="#444" stroke-width="0.8" />
<line x1="257.20" y1="253.20" x2="261.20" y2="253.20" stroke="#333" stroke-width="0.8" />
<line x1="259.20" y1="251.20" x2="259.20" y2="255.20" stroke="#333" stroke-width="0.8" />
<defs><filter id="bl0" x="-50%" y="-100%" width="200%" height="300%"><feGaussianBlur stdDeviation="0.5"/></filter><filter id="bl1" x="-50%" y="-100%" width="200%" height="300%"><feGaussianBlur stdDeviation="0.7"/></filter><filter id="bl2" x="-50%" y="-100%" width="200%" height="300%"><feGaussianBlur stdDeviation="1.0"/></filter></defs>
<rect x="43.40" y="260.60" width="225.80" height="79.60" fill="#a2a2a2" stroke="none" stroke-width="0" />
<rect x="44.30" y="261.40" width="224.00" height="10.50" fill="#efefef" stroke="#8c8c8c" stroke-width="0.8" />
<rect x="44.30" y="274.30" width="224.00" height="11.00" fill="#c9c9c9" stroke="#8c8c8c" stroke-width="0.8" />
<rect x="44.30" y="288.00" width="224.00" height="14.00" fill="#cfcfcf" stroke="#8c8c8c" stroke-width="0.8" />
<rect x="44.30" y="305.80" width="224.00" height="19.40" fill="#c6c6c6" stroke="#8c8c8c" stroke-width="0.8" />
<rect x="44.30" y="327.90" width="224.00" height="11.50" fill="#e0e0e0" stroke="#8c8c8c" stroke-width="0.8" />
<rect x="157.90" y="263.00" width="11.40" height="6.20" rx="2.4" fill="#151515" filter="url(#bl0)"/>
<rect x="171.60" y="263.00" width="11.40" height="6.20" rx="2.4" fill="#151515" filter="url(#bl0)"/>
<rect x="185.00" y="263.00" width="11.40" height="6.20" rx="2.4" fill="#151515" filter="url(#bl0)"/>
<rect x="199.30" y="263.00" width="11.40" height="6.20" rx="2.4" fill="#151515" filter="url(#bl0)"/>
<rect x="213.80" y="263.00" width="11.40" height="6.20" rx="2.4" fill="#151515" filter="url(#bl0)"/>
<rect x="226.50" y="263.00" width="11.40" height="6.20" rx="2.4" fill="#151515" filter="url(#bl0)"/>
<rect x="239.70" y="263.00" width="11.40" height="6.20" rx="2.4" fill="#151515" filter="url(#bl0)"/>
<rect x="253.10" y="263.00" width="11.40" height="6.20" rx="2.4" fill="#727272" filter="url(#bl0)"/>
<rect x="46.00" y="277.05" width="11.00" height="2.90" rx="1.6" fill="#222222" filter="url(#bl0)"/>
<rect x="62.50" y="277.95" width="11.00" height="2.90" rx="1.6" fill="#222222" filter="url(#bl0)"/>
<rect x="77.20" y="279.75" width="11.00" height="2.90" rx="1.6" fill="#313131" filter="url(#bl0)"/>
<rect x="77.50" y="276.80" width="10.40" height="2.00" rx="1.6" fill="#a8a8a8" filter="url(#bl0)"/>
<rect x="90.70" y="280.55" width="11.00" height="2.90" rx="1.6" fill="#313131" filter="url(#bl0)"/>
<rect x="91.00" y="276.80" width="10.40" height="2.00" rx="1.6" fill="#a8a8a8" filter="url(#bl0)"/>
<rect x="105.50" y="280.55" width="11.00" height="2.90" rx="1.6" fill="#313131" filter="url(#bl0)"/>
<rect x="105.80" y="276.80" width="10.40" height="2.00" rx="1.6" fill="#a8a8a8" filter="url(#bl0)"/>
<rect x="119.30" y="280.55" width="11.00" height="2.90" rx="1.6" fill="#313131" filter="url(#bl0)"/>
<rect x="119.60" y="276.80" width="10.40" height="2.00" rx="1.6" fill="#a8a8a8" filter="url(#bl0)"/>
<rect x="133.50" y="280.55" width="11.00" height="2.90" rx="1.6" fill="#313131" filter="url(#bl0)"/>
<rect x="133.80" y="276.80" width="10.40" height="2.00" rx="1.6" fill="#a8a8a8" filter="url(#bl0)"/>
<rect x="147.40" y="280.55" width="11.00" height="2.90" rx="1.6" fill="#313131" filter="url(#bl0)"/>
<rect x="147.70" y="276.80" width="10.40" height="2.00" rx="1.6" fill="#a8a8a8" filter="url(#bl0)"/>
<rect x="159.50" y="280.45" width="11.00" height="2.90" rx="1.6" fill="#313131" filter="url(#bl0)"/>
<rect x="159.80" y="276.80" width="10.40" height="2.00" rx="1.6" fill="#a8a8a8" filter="url(#bl0)"/>
<rect x="173.40" y="280.45" width="11.00" height="2.90" rx="1.6" fill="#313131" filter="url(#bl0)"/>
<rect x="173.70" y="276.80" width="10.40" height="2.00" rx="1.6" fill="#a8a8a8" filter="url(#bl0)"/>
<rect x="187.20" y="280.45" width="11.00" height="2.90" rx="1.6" fill="#313131" filter="url(#bl0)"/>
<rect x="187.50" y="276.80" width="10.40" height="2.00" rx="1.6" fill="#a8a8a8" filter="url(#bl0)"/>
<rect x="202.20" y="280.45" width="11.00" height="2.90" rx="1.6" fill="#313131" filter="url(#bl0)"/>
<rect x="202.50" y="276.80" width="10.40" height="2.00" rx="1.6" fill="#a8a8a8" filter="url(#bl0)"/>
<rect x="216.00" y="280.45" width="11.00" height="2.90" rx="1.6" fill="#313131" filter="url(#bl0)"/>
<rect x="216.30" y="276.80" width="10.40" height="2.00" rx="1.6" fill="#a8a8a8" filter="url(#bl0)"/>
<rect x="229.90" y="280.15" width="11.00" height="2.90" rx="1.6" fill="#313131" filter="url(#bl0)"/>
<rect x="230.20" y="276.80" width="10.40" height="2.00" rx="1.6" fill="#a8a8a8" filter="url(#bl0)"/>
<rect x="243.80" y="279.35" width="11.00" height="2.90" rx="1.6" fill="#222222" filter="url(#bl0)"/>
<rect x="244.10" y="276.80" width="10.40" height="2.00" rx="1.6" fill="#a8a8a8" filter="url(#bl0)"/>
<rect x="257.00" y="278.15" width="11.00" height="2.90" rx="1.6" fill="#222222" filter="url(#bl0)"/>
<rect x="257.30" y="276.80" width="10.40" height="2.00" rx="1.6" fill="#a8a8a8" filter="url(#bl0)"/>
<rect x="46.60" y="288.70" width="11.00" height="3.00" rx="1.6" fill="#636363" filter="url(#bl0)"/>
<rect x="46.80" y="296.65" width="10.60" height="2.70" rx="1.6" fill="#878787" filter="url(#bl0)"/>
<rect x="63.10" y="289.23" width="11.00" height="3.00" rx="1.6" fill="#262626" filter="url(#bl0)"/>
<rect x="63.30" y="297.25" width="10.60" height="2.70" rx="1.6" fill="#474747" filter="url(#bl0)"/>
<rect x="77.80" y="289.77" width="11.00" height="3.00" rx="1.6" fill="#262626" filter="url(#bl0)"/>
<rect x="78.00" y="297.85" width="10.60" height="2.70" rx="1.6" fill="#474747" filter="url(#bl0)"/>
<rect x="91.00" y="290.30" width="11.00" height="3.00" rx="1.6" fill="#262626" filter="url(#bl0)"/>
<rect x="91.20" y="298.45" width="10.60" height="2.70" rx="1.6" fill="#474747" filter="url(#bl0)"/>
<rect x="105.70" y="290.30" width="11.00" height="3.00" rx="1.6" fill="#262626" filter="url(#bl0)"/>
<rect x="105.90" y="298.45" width="10.60" height="2.70" rx="1.6" fill="#474747" filter="url(#bl0)"/>
<rect x="119.30" y="290.30" width="11.00" height="3.00" rx="1.6" fill="#262626" filter="url(#bl0)"/>
<rect x="119.50" y="298.45" width="10.60" height="2.70" rx="1.6" fill="#474747" filter="url(#bl0)"/>
<rect x="133.20" y="290.30" width="11.00" height="3.00" rx="1.6" fill="#262626" filter="url(#bl0)"/>
<rect x="133.40" y="298.45" width="10.60" height="2.70" rx="1.6" fill="#474747" filter="url(#bl0)"/>
<rect x="147.00" y="290.30" width="11.00" height="3.00" rx="1.6" fill="#262626" filter="url(#bl0)"/>
<rect x="147.20" y="298.45" width="10.60" height="2.70" rx="1.6" fill="#474747" filter="url(#bl0)"/>
<rect x="158.90" y="290.30" width="11.00" height="3.00" rx="1.6" fill="#262626" filter="url(#bl0)"/>
<rect x="159.10" y="298.45" width="10.60" height="2.70" rx="1.6" fill="#474747" filter="url(#bl0)"/>
<rect x="173.40" y="290.30" width="11.00" height="3.00" rx="1.6" fill="#262626" filter="url(#bl0)"/>
<rect x="173.60" y="298.45" width="10.60" height="2.70" rx="1.6" fill="#474747" filter="url(#bl0)"/>
<rect x="187.80" y="290.30" width="11.00" height="3.00" rx="1.6" fill="#262626" filter="url(#bl0)"/>
<rect x="188.00" y="298.45" width="10.60" height="2.70" rx="1.6" fill="#474747" filter="url(#bl0)"/>
<rect x="201.40" y="290.30" width="11.00" height="3.00" rx="1.6" fill="#262626" filter="url(#bl0)"/>
<rect x="201.60" y="298.45" width="10.60" height="2.70" rx="1.6" fill="#474747" filter="url(#bl0)"/>
<rect x="214.90" y="290.30" width="11.00" height="3.00" rx="1.6" fill="#9f9f9f" filter="url(#bl0)"/>
<rect x="215.10" y="298.45" width="10.60" height="2.70" rx="1.6" fill="#a8a8a8" filter="url(#bl0)"/>
<rect x="228.70" y="290.30" width="11.00" height="3.00" rx="1.6" fill="#9f9f9f" filter="url(#bl0)"/>
<rect x="228.90" y="298.45" width="10.60" height="2.70" rx="1.6" fill="#a8a8a8" filter="url(#bl0)"/>
<rect x="242.60" y="290.30" width="11.00" height="3.00" rx="1.6" fill="#9f9f9f" filter="url(#bl0)"/>
<rect x="242.80" y="298.45" width="10.60" height="2.70" rx="1.6" fill="#a8a8a8" filter="url(#bl0)"/>
<rect x="254.70" y="290.30" width="11.00" height="3.00" rx="1.6" fill="#9f9f9f" filter="url(#bl0)"/>
<rect x="254.90" y="298.45" width="10.60" height="2.70" rx="1.6" fill="#a8a8a8" filter="url(#bl0)"/>
<rect x="46.10" y="306.70" width="11.60" height="4.80" rx="2.2" fill="#111111" filter="url(#bl0)"/>
<rect x="46.60" y="316.60" width="10.60" height="3.80" rx="1.8" fill="#777777" filter="url(#bl1)"/>
<rect x="47.30" y="317.00" width="4.00" height="3.00" rx="1.4" fill="#636363" filter="url(#bl1)"/>
<rect x="52.50" y="317.00" width="4.00" height="3.00" rx="1.4" fill="#636363" filter="url(#bl1)"/>
<rect x="61.90" y="307.60" width="11.60" height="4.80" rx="2.2" fill="#111111" filter="url(#bl0)"/>
<rect x="62.40" y="317.17" width="10.60" height="3.80" rx="1.8" fill="#777777" filter="url(#bl1)"/>
<rect x="63.10" y="317.57" width="4.00" height="3.00" rx="1.4" fill="#636363" filter="url(#bl1)"/>
<rect x="68.30" y="317.57" width="4.00" height="3.00" rx="1.4" fill="#636363" filter="url(#bl1)"/>
<rect x="76.90" y="308.50" width="11.60" height="4.80" rx="2.2" fill="#111111" filter="url(#bl0)"/>
<rect x="77.40" y="317.73" width="10.60" height="3.80" rx="1.8" fill="#777777" filter="url(#bl1)"/>
<rect x="78.10" y="318.13" width="4.00" height="3.00" rx="1.4" fill="#636363" filter="url(#bl1)"/>
<rect x="83.30" y="318.13" width="4.00" height="3.00" rx="1.4" fill="#636363" filter="url(#bl1)"/>
<rect x="90.50" y="309.40" width="11.60" height="4.80" rx="2.2" fill="#111111" filter="url(#bl0)"/>
<rect x="91.00" y="318.30" width="10.60" height="3.80" rx="1.8" fill="#777777" filter="url(#bl1)"/>
<rect x="91.70" y="318.70" width="4.00" height="3.00" rx="1.4" fill="#636363" filter="url(#bl1)"/>
<rect x="96.90" y="318.70" width="4.00" height="3.00" rx="1.4" fill="#636363" filter="url(#bl1)"/>
<rect x="104.80" y="309.40" width="11.60" height="4.80" rx="2.2" fill="#111111" filter="url(#bl0)"/>
<rect x="105.30" y="318.30" width="10.60" height="3.80" rx="1.8" fill="#777777" filter="url(#bl1)"/>
<rect x="106.00" y="318.70" width="4.00" height="3.00" rx="1.4" fill="#636363" filter="url(#bl1)"/>
<rect x="111.20" y="318.70" width="4.00" height="3.00" rx="1.4" fill="#636363" filter="url(#bl1)"/>
<rect x="117.90" y="309.40" width="11.60" height="4.80" rx="2.2" fill="#111111" filter="url(#bl0)"/>
<rect x="118.40" y="318.30" width="10.60" height="3.80" rx="1.8" fill="#777777" filter="url(#bl1)"/>
<rect x="119.10" y="318.70" width="4.00" height="3.00" rx="1.4" fill="#636363" filter="url(#bl1)"/>
<rect x="124.30" y="318.70" width="4.00" height="3.00" rx="1.4" fill="#636363" filter="url(#bl1)"/>
<rect x="131.70" y="309.40" width="11.60" height="4.80" rx="2.2" fill="#111111" filter="url(#bl0)"/>
<rect x="132.20" y="318.30" width="10.60" height="3.80" rx="1.8" fill="#777777" filter="url(#bl1)"/>
<rect x="132.90" y="318.70" width="4.00" height="3.00" rx="1.4" fill="#636363" filter="url(#bl1)"/>
<rect x="138.10" y="318.70" width="4.00" height="3.00" rx="1.4" fill="#636363" filter="url(#bl1)"/>
<rect x="146.40" y="309.40" width="11.60" height="4.80" rx="2.2" fill="#111111" filter="url(#bl0)"/>
<rect x="146.90" y="318.30" width="10.60" height="3.80" rx="1.8" fill="#777777" filter="url(#bl1)"/>
<rect x="147.60" y="318.70" width="4.00" height="3.00" rx="1.4" fill="#636363" filter="url(#bl1)"/>
<rect x="152.80" y="318.70" width="4.00" height="3.00" rx="1.4" fill="#636363" filter="url(#bl1)"/>
<rect x="158.60" y="308.00" width="11.60" height="4.80" rx="2.2" fill="#111111" filter="url(#bl0)"/>
<rect x="159.10" y="318.50" width="10.60" height="3.80" rx="1.8" fill="#777777" filter="url(#bl1)"/>
<rect x="159.80" y="318.90" width="4.00" height="3.00" rx="1.4" fill="#636363" filter="url(#bl1)"/>
<rect x="165.00" y="318.90" width="4.00" height="3.00" rx="1.4" fill="#636363" filter="url(#bl1)"/>
<rect x="172.50" y="308.00" width="11.60" height="4.80" rx="2.2" fill="#111111" filter="url(#bl0)"/>
<rect x="173.00" y="318.50" width="10.60" height="3.80" rx="1.8" fill="#777777" filter="url(#bl1)"/>
<rect x="173.70" y="318.90" width="4.00" height="3.00" rx="1.4" fill="#636363" filter="url(#bl1)"/>
<rect x="178.90" y="318.90" width="4.00" height="3.00" rx="1.4" fill="#636363" filter="url(#bl1)"/>
<rect x="186.90" y="308.00" width="11.60" height="4.80" rx="2.2" fill="#111111" filter="url(#bl0)"/>
<rect x="187.40" y="318.50" width="10.60" height="3.80" rx="1.8" fill="#777777" filter="url(#bl1)"/>
<rect x="188.10" y="318.90" width="4.00" height="3.00" rx="1.4" fill="#636363" filter="url(#bl1)"/>
<rect x="193.30" y="318.90" width="4.00" height="3.00" rx="1.4" fill="#636363" filter="url(#bl1)"/>
<rect x="200.70" y="308.00" width="11.60" height="4.80" rx="2.2" fill="#111111" filter="url(#bl0)"/>
<rect x="201.20" y="318.50" width="10.60" height="3.80" rx="1.8" fill="#777777" filter="url(#bl1)"/>
<rect x="201.90" y="318.90" width="4.00" height="3.00" rx="1.4" fill="#636363" filter="url(#bl1)"/>
<rect x="207.10" y="318.90" width="4.00" height="3.00" rx="1.4" fill="#636363" filter="url(#bl1)"/>
<rect x="214.60" y="308.00" width="11.60" height="4.80" rx="2.2" fill="#111111" filter="url(#bl0)"/>
<rect x="215.10" y="318.50" width="10.60" height="3.80" rx="1.8" fill="#969696" filter="url(#bl1)"/>
<rect x="215.80" y="318.90" width="4.00" height="3.00" rx="1.4" fill="#878787" filter="url(#bl1)"/>
<rect x="221.00" y="318.90" width="4.00" height="3.00" rx="1.4" fill="#878787" filter="url(#bl1)"/>
<rect x="228.40" y="308.00" width="11.60" height="4.80" rx="2.2" fill="#111111" filter="url(#bl0)"/>
<rect x="228.90" y="318.50" width="10.60" height="3.80" rx="1.8" fill="#969696" filter="url(#bl1)"/>
<rect x="229.60" y="318.90" width="4.00" height="3.00" rx="1.4" fill="#878787" filter="url(#bl1)"/>
<rect x="234.80" y="318.90" width="4.00" height="3.00" rx="1.4" fill="#878787" filter="url(#bl1)"/>
<rect x="241.10" y="308.00" width="11.60" height="4.80" rx="2.2" fill="#111111" filter="url(#bl0)"/>
<rect x="241.60" y="318.50" width="10.60" height="3.80" rx="1.8" fill="#969696" filter="url(#bl1)"/>
<rect x="242.30" y="318.90" width="4.00" height="3.00" rx="1.4" fill="#878787" filter="url(#bl1)"/>
<rect x="247.50" y="318.90" width="4.00" height="3.00" rx="1.4" fill="#878787" filter="url(#bl1)"/>
<rect x="254.40" y="308.00" width="11.60" height="4.80" rx="2.2" fill="#111111" filter="url(#bl0)"/>
<rect x="254.90" y="318.50" width="10.60" height="3.80" rx="1.8" fill="#969696" filter="url(#bl1)"/>
<rect x="255.60" y="318.90" width="4.00" height="3.00" rx="1.4" fill="#878787" filter="url(#bl1)"/>
<rect x="260.80" y="318.90" width="4.00" height="3.00" rx="1.4" fill="#878787" filter="url(#bl1)"/>
<rect x="45.00" y="329.80" width="10.80" height="3.40" rx="1.6" fill="#151515" filter="url(#bl0)"/>
<rect x="60.80" y="330.73" width="10.80" height="3.40" rx="1.6" fill="#151515" filter="url(#bl0)"/>
<rect x="75.60" y="331.67" width="10.80" height="3.40" rx="1.6" fill="#151515" filter="url(#bl0)"/>
<rect x="89.40" y="332.60" width="10.80" height="3.40" rx="1.6" fill="#151515" filter="url(#bl0)"/>
<rect x="103.90" y="332.60" width="10.80" height="3.40" rx="1.6" fill="#151515" filter="url(#bl0)"/>
<rect x="117.50" y="332.60" width="10.80" height="3.40" rx="1.6" fill="#151515" filter="url(#bl0)"/>
<rect x="131.30" y="332.60" width="10.80" height="3.40" rx="1.6" fill="#151515" filter="url(#bl0)"/>
<rect x="145.90" y="332.60" width="10.80" height="3.40" rx="1.6" fill="#151515" filter="url(#bl0)"/>
<rect x="156.80" y="332.60" width="10.80" height="3.40" rx="1.6" fill="#151515" filter="url(#bl0)"/>
<rect x="171.20" y="332.60" width="10.80" height="3.40" rx="1.6" fill="#151515" filter="url(#bl0)"/>
<rect x="185.10" y="332.60" width="10.80" height="3.40" rx="1.6" fill="#151515" filter="url(#bl0)"/>
<rect x="200.00" y="332.60" width="10.80" height="3.40" rx="1.6" fill="#151515" filter="url(#bl0)"/>
<rect x="213.60" y="332.60" width="10.80" height="3.40" rx="1.6" fill="#151515" filter="url(#bl0)"/>
<rect x="227.80" y="332.60" width="10.80" height="3.40" rx="1.6" fill="#151515" filter="url(#bl0)"/>
<rect x="241.70" y="332.60" width="10.80" height="3.40" rx="1.6" fill="#151515" filter="url(#bl0)"/>
<rect x="254.80" y="332.60" width="10.80" height="3.40" rx="1.6" fill="#151515" filter="url(#bl0)"/>
<text x="272.60" y="270.80" font-size="7.60" fill="#231f20" stroke="#231f20" stroke-width="0.22" textLength="19.20" lengthAdjust="spacingAndGlyphs" >IGF1R</text>
<text x="272.60" y="283.20" font-size="7.60" fill="#231f20" stroke="#231f20" stroke-width="0.22" textLength="20.60" lengthAdjust="spacingAndGlyphs" >p-AKT</text>
<text x="293.60" y="279.60" font-size="5.00" fill="#231f20" stroke="#231f20" stroke-width="0.06" textLength="16.70" lengthAdjust="spacingAndGlyphs" >Thr308</text>
<text x="272.60" y="298.80" font-size="7.60" fill="#231f20" stroke="#231f20" stroke-width="0.22" textLength="19.90" lengthAdjust="spacingAndGlyphs" >p-ERK</text>
<text x="292.60" y="295.00" font-size="5.00" fill="#231f20" stroke="#231f20" stroke-width="0.06" textLength="25.90" lengthAdjust="spacingAndGlyphs" >T202/Y204</text>
<text x="272.60" y="319.40" font-size="7.60" fill="#231f20" stroke="#231f20" stroke-width="0.22" textLength="23.30" lengthAdjust="spacingAndGlyphs" >ERK1/2</text>
<text x="272.60" y="336.10" font-size="7.60" fill="#231f20" stroke="#231f20" stroke-width="0.22" textLength="27.40" lengthAdjust="spacingAndGlyphs" >&#946;-ACTIN</text>
<line x1="384.40" y1="198.00" x2="384.40" y2="285.60" stroke="#231f20" stroke-width="1.2" />
<line x1="381.60" y1="285.00" x2="384.40" y2="285.00" stroke="#231f20" stroke-width="1" />
<text x="379.40" y="287.50" font-size="7.00" fill="#231f20" stroke="#231f20" stroke-width="0.14" text-anchor="end" >0</text>
<line x1="381.60" y1="263.85" x2="384.40" y2="263.85" stroke="#231f20" stroke-width="1" />
<text x="379.40" y="266.35" font-size="7.00" fill="#231f20" stroke="#231f20" stroke-width="0.14" text-anchor="end" >5</text>
<line x1="381.60" y1="242.70" x2="384.40" y2="242.70" stroke="#231f20" stroke-width="1" />
<text x="379.40" y="245.20" font-size="7.00" fill="#231f20" stroke="#231f20" stroke-width="0.14" text-anchor="end" >10</text>
<line x1="381.60" y1="221.55" x2="384.40" y2="221.55" stroke="#231f20" stroke-width="1" />
<text x="379.40" y="224.05" font-size="7.00" fill="#231f20" stroke="#231f20" stroke-width="0.14" text-anchor="end" >15</text>
<line x1="381.60" y1="200.40" x2="384.40" y2="200.40" stroke="#231f20" stroke-width="1" />
<text x="379.40" y="202.90" font-size="7.00" fill="#231f20" stroke="#231f20" stroke-width="0.14" text-anchor="end" >20</text>
<line x1="383.80" y1="285.00" x2="510.20" y2="285.00" stroke="#231f20" stroke-width="1.2" />
<line x1="401.20" y1="285.00" x2="401.20" y2="288.20" stroke="#231f20" stroke-width="1" />
<line x1="432.00" y1="285.00" x2="432.00" y2="288.20" stroke="#231f20" stroke-width="1" />
<line x1="462.80" y1="285.00" x2="462.80" y2="288.20" stroke="#231f20" stroke-width="1" />
<line x1="494.20" y1="285.00" x2="494.20" y2="288.20" stroke="#231f20" stroke-width="1" />
<text x="353.20" y="241.00" font-size="8.80" fill="#231f20" stroke="#231f20" stroke-width="0.22" text-anchor="middle" textLength="68.90" lengthAdjust="spacingAndGlyphs" transform="rotate(-90 353.20 241.00)" >IGF1R expression</text>
<text x="363.60" y="241.00" font-size="8.80" fill="#231f20" stroke="#231f20" stroke-width="0.22" text-anchor="middle" textLength="105.40" lengthAdjust="spacingAndGlyphs" transform="rotate(-90 363.60 241.00)" >(normalized to sample #1)</text>
<text x="404.00" y="294.30" font-size="7.40" fill="#231f20" stroke="#231f20" stroke-width="0.14" text-anchor="end" textLength="22.00" lengthAdjust="spacingAndGlyphs" transform="rotate(-45 404.00 294.30)" >DMSO</text>
<text x="434.80" y="294.30" font-size="7.40" fill="#231f20" stroke="#231f20" stroke-width="0.14" text-anchor="end" textLength="33.50" lengthAdjust="spacingAndGlyphs" transform="rotate(-45 434.80 294.30)" >1uM Idela</text>
<text x="465.60" y="294.30" font-size="7.40" fill="#231f20" stroke="#231f20" stroke-width="0.14" text-anchor="end" textLength="22.00" lengthAdjust="spacingAndGlyphs" transform="rotate(-45 465.60 294.30)" >DMSO</text>
<text x="497.00" y="294.30" font-size="7.40" fill="#231f20" stroke="#231f20" stroke-width="0.14" text-anchor="end" textLength="33.50" lengthAdjust="spacingAndGlyphs" transform="rotate(-45 497.00 294.30)" >1uM Idela</text>
<line x1="391.20" y1="326.30" x2="440.20" y2="326.30" stroke="#383838" stroke-width="1.3" />
<line x1="391.20" y1="324.00" x2="391.20" y2="328.60" stroke="#383838" stroke-width="1.1" />
<line x1="440.20" y1="324.00" x2="440.20" y2="328.60" stroke="#383838" stroke-width="1.1" />
<text x="398.30" y="338.00" font-size="7.40" fill="#231f20" stroke="#231f20" stroke-width="0.14" textLength="35.20" lengthAdjust="spacingAndGlyphs" >Low IGF1R</text>
<line x1="454.20" y1="326.30" x2="503.00" y2="326.30" stroke="#383838" stroke-width="1.3" />
<line x1="454.20" y1="324.00" x2="454.20" y2="328.60" stroke="#383838" stroke-width="1.1" />
<line x1="503.00" y1="324.00" x2="503.00" y2="328.60" stroke="#383838" stroke-width="1.1" />
<text x="459.80" y="338.00" font-size="7.40" fill="#231f20" stroke="#231f20" stroke-width="0.14" textLength="37.10" lengthAdjust="spacingAndGlyphs" >High IGF1R</text>
<line x1="400.60" y1="268.80" x2="431.60" y2="269.70" stroke="#355a8c" stroke-width="0.9" />
<circle cx="400.60" cy="268.80" r="1.6" fill="#355a8c"/>
<rect x="430.00" y="268.10" width="3.20" height="3.20" fill="#355a8c" stroke="none" stroke-width="0" />
<line x1="400.60" y1="271.40" x2="431.60" y2="276.60" stroke="#355a8c" stroke-width="0.9" />
<circle cx="400.60" cy="271.40" r="1.6" fill="#355a8c"/>
<rect x="430.00" y="275.00" width="3.20" height="3.20" fill="#355a8c" stroke="none" stroke-width="0" />
<line x1="400.60" y1="276.20" x2="431.60" y2="264.10" stroke="#355a8c" stroke-width="0.9" />
<circle cx="400.60" cy="276.20" r="1.6" fill="#355a8c"/>
<rect x="430.00" y="262.50" width="3.20" height="3.20" fill="#355a8c" stroke="none" stroke-width="0" />
<line x1="400.60" y1="277.70" x2="431.60" y2="275.30" stroke="#355a8c" stroke-width="0.9" />
<circle cx="400.60" cy="277.70" r="1.6" fill="#355a8c"/>
<rect x="430.00" y="273.70" width="3.20" height="3.20" fill="#355a8c" stroke="none" stroke-width="0" />
<line x1="400.60" y1="281.00" x2="431.60" y2="278.40" stroke="#355a8c" stroke-width="0.9" />
<circle cx="400.60" cy="281.00" r="1.6" fill="#355a8c"/>
<rect x="430.00" y="276.80" width="3.20" height="3.20" fill="#355a8c" stroke="none" stroke-width="0" />
<line x1="400.60" y1="276.90" x2="431.60" y2="271.00" stroke="#355a8c" stroke-width="0.9" />
<circle cx="400.60" cy="276.90" r="1.6" fill="#355a8c"/>
<rect x="430.00" y="269.40" width="3.20" height="3.20" fill="#355a8c" stroke="none" stroke-width="0" />
<line x1="462.70" y1="238.20" x2="494.20" y2="231.80" stroke="#355a8c" stroke-width="0.9" />
<path d="M460.80,239.60 L464.60,239.60 L462.70,236.30 Z" fill="#355a8c"/>
<path d="M492.30,230.40 L496.10,230.40 L494.20,233.70 Z" fill="#355a8c"/>
<line x1="462.70" y1="244.30" x2="494.20" y2="232.80" stroke="#355a8c" stroke-width="0.9" />
<path d="M460.80,245.70 L464.60,245.70 L462.70,242.40 Z" fill="#355a8c"/>
<path d="M492.30,231.40 L496.10,231.40 L494.20,234.70 Z" fill="#355a8c"/>
<line x1="462.70" y1="254.70" x2="494.20" y2="247.20" stroke="#355a8c" stroke-width="0.9" />
<path d="M460.80,256.10 L464.60,256.10 L462.70,252.80 Z" fill="#355a8c"/>
<path d="M492.30,245.80 L496.10,245.80 L494.20,249.10 Z" fill="#355a8c"/>
<line x1="462.70" y1="255.80" x2="494.20" y2="248.80" stroke="#355a8c" stroke-width="0.9" />
<path d="M460.80,257.20 L464.60,257.20 L462.70,253.90 Z" fill="#355a8c"/>
<path d="M492.30,247.40 L496.10,247.40 L494.20,250.70 Z" fill="#355a8c"/>
<line x1="462.70" y1="256.80" x2="494.20" y2="261.10" stroke="#355a8c" stroke-width="0.9" />
<path d="M460.80,258.20 L464.60,258.20 L462.70,254.90 Z" fill="#355a8c"/>
<path d="M492.30,259.70 L496.10,259.70 L494.20,263.00 Z" fill="#355a8c"/>
<line x1="462.70" y1="255.20" x2="494.20" y2="250.20" stroke="#355a8c" stroke-width="0.9" />
<path d="M460.80,256.60 L464.60,256.60 L462.70,253.30 Z" fill="#355a8c"/>
<path d="M492.30,248.80 L496.10,248.80 L494.20,252.10 Z" fill="#355a8c"/>
<line x1="462.70" y1="264.60" x2="494.40" y2="205.20" stroke="#b22a3e" stroke-width="1.1" />
<path d="M460.80,266.00 L464.60,266.00 L462.70,262.70 Z" fill="#b22a3e"/>
<path d="M492.50,203.80 L496.30,203.80 L494.40,207.10 Z" fill="#b22a3e"/>
<text x="92.60" y="375.00" font-size="8.00" fill="#231f20" stroke="#231f20" stroke-width="0.22" textLength="35.60" lengthAdjust="spacingAndGlyphs" >Low IGF1R</text>
<text x="187.60" y="375.00" font-size="8.00" fill="#231f20" stroke="#231f20" stroke-width="0.22" textLength="37.40" lengthAdjust="spacingAndGlyphs" >High IGF1R</text>
<line x1="51.50" y1="380.30" x2="168.00" y2="380.30" stroke="#333" stroke-width="1.1" />
<line x1="172.40" y1="380.30" x2="239.50" y2="380.30" stroke="#333" stroke-width="1.1" />
<text x="55.70" y="390.20" font-size="7.60" fill="#231f20" stroke="#231f20" stroke-width="0.22" text-anchor="middle" textLength="7.70" lengthAdjust="spacingAndGlyphs" >#1</text>
<text x="74.60" y="390.20" font-size="7.60" fill="#231f20" stroke="#231f20" stroke-width="0.22" text-anchor="middle" textLength="7.70" lengthAdjust="spacingAndGlyphs" >#2</text>
<text x="91.40" y="390.20" font-size="7.60" fill="#231f20" stroke="#231f20" stroke-width="0.22" text-anchor="middle" textLength="7.70" lengthAdjust="spacingAndGlyphs" >#3</text>
<text x="108.80" y="390.20" font-size="7.60" fill="#231f20" stroke="#231f20" stroke-width="0.22" text-anchor="middle" textLength="7.70" lengthAdjust="spacingAndGlyphs" >#4</text>
<text x="125.90" y="390.20" font-size="7.60" fill="#231f20" stroke="#231f20" stroke-width="0.22" text-anchor="middle" textLength="7.70" lengthAdjust="spacingAndGlyphs" >#5</text>
<text x="142.90" y="390.20" font-size="7.60" fill="#231f20" stroke="#231f20" stroke-width="0.22" text-anchor="middle" textLength="7.70" lengthAdjust="spacingAndGlyphs" >#6</text>
<text x="158.50" y="390.20" font-size="7.60" fill="#231f20" stroke="#231f20" stroke-width="0.22" text-anchor="middle" textLength="7.70" lengthAdjust="spacingAndGlyphs" >#7</text>
<text x="175.40" y="390.20" font-size="7.60" fill="#231f20" stroke="#231f20" stroke-width="0.22" text-anchor="middle" textLength="7.70" lengthAdjust="spacingAndGlyphs" >#8</text>
<text x="191.50" y="390.20" font-size="7.60" fill="#231f20" stroke="#231f20" stroke-width="0.22" text-anchor="middle" textLength="7.70" lengthAdjust="spacingAndGlyphs" >#9</text>
<text x="207.40" y="390.20" font-size="7.60" fill="#231f20" stroke="#231f20" stroke-width="0.22" text-anchor="middle" textLength="11.00" lengthAdjust="spacingAndGlyphs" >#10</text>
<text x="225.00" y="390.20" font-size="7.60" fill="#231f20" stroke="#231f20" stroke-width="0.22" text-anchor="middle" textLength="11.00" lengthAdjust="spacingAndGlyphs" >#11</text>
<rect x="48.10" y="395.10" width="190.50" height="28.70" fill="#b7b7b7" stroke="#2a2a2a" stroke-width="1.1" />
<rect x="48.10" y="426.20" width="190.50" height="18.00" fill="#d0d0d0" stroke="#2a2a2a" stroke-width="1.1" />
<rect x="48.10" y="446.30" width="190.50" height="22.90" fill="#cfcfcf" stroke="#2a2a2a" stroke-width="1.1" />
<rect x="51.00" y="406.00" width="12.00" height="6.00" rx="2" fill="#aeaeae" filter="url(#bl2)"/>
<rect x="69.80" y="406.00" width="12.00" height="6.00" rx="2" fill="#aeaeae" filter="url(#bl2)"/>
<rect x="87.60" y="406.00" width="12.00" height="6.00" rx="2" fill="#aeaeae" filter="url(#bl2)"/>
<rect x="104.60" y="406.00" width="12.00" height="6.00" rx="2" fill="#aeaeae" filter="url(#bl2)"/>
<rect x="121.70" y="406.00" width="12.00" height="6.00" rx="2" fill="#aeaeae" filter="url(#bl2)"/>
<rect x="138.60" y="406.00" width="12.00" height="6.00" rx="2" fill="#aeaeae" filter="url(#bl2)"/>
<rect x="154.90" y="406.00" width="12.00" height="6.00" rx="2" fill="#aeaeae" filter="url(#bl2)"/>
<rect x="170.80" y="405.80" width="13.80" height="5.40" rx="2.4" fill="#2c2c2c" filter="url(#bl2)"/>
<rect x="187.50" y="405.80" width="13.80" height="5.40" rx="2.4" fill="#313131" filter="url(#bl2)"/>
<rect x="204.70" y="405.80" width="13.80" height="5.40" rx="2.4" fill="#585858" filter="url(#bl2)"/>
<rect x="221.60" y="405.00" width="14.60" height="7.00" rx="2.4" fill="#1c1c1c" filter="url(#bl2)"/>
<rect x="221.40" y="433.30" width="15.00" height="3.00" rx="1.2" fill="#272727" filter="url(#bl1)"/>
<rect x="221.40" y="438.45" width="15.00" height="3.30" rx="1.2" fill="#181818" filter="url(#bl1)"/>
<rect x="48.90" y="451.30" width="16.20" height="3.20" rx="1.2" fill="#323232" filter="url(#bl1)"/>
<rect x="48.90" y="457.00" width="16.20" height="3.80" rx="1.2" fill="#212121" filter="url(#bl1)"/>
<rect x="49.70" y="455.30" width="14.60" height="2.00" rx="0.8" fill="#949494" filter="url(#bl1)"/>
<rect x="67.70" y="452.90" width="16.20" height="3.20" rx="1.2" fill="#323232" filter="url(#bl1)"/>
<rect x="67.70" y="457.80" width="16.20" height="3.80" rx="1.2" fill="#212121" filter="url(#bl1)"/>
<rect x="68.50" y="456.10" width="14.60" height="2.00" rx="0.8" fill="#949494" filter="url(#bl1)"/>
<rect x="85.50" y="452.90" width="16.20" height="3.20" rx="1.2" fill="#323232" filter="url(#bl1)"/>
<rect x="85.50" y="457.80" width="16.20" height="3.80" rx="1.2" fill="#212121" filter="url(#bl1)"/>
<rect x="86.30" y="456.10" width="14.60" height="2.00" rx="0.8" fill="#949494" filter="url(#bl1)"/>
<rect x="102.50" y="452.90" width="16.20" height="3.20" rx="1.2" fill="#323232" filter="url(#bl1)"/>
<rect x="102.50" y="457.80" width="16.20" height="3.80" rx="1.2" fill="#212121" filter="url(#bl1)"/>
<rect x="103.30" y="456.10" width="14.60" height="2.00" rx="0.8" fill="#949494" filter="url(#bl1)"/>
<rect x="119.60" y="452.90" width="16.20" height="3.20" rx="1.2" fill="#323232" filter="url(#bl1)"/>
<rect x="119.60" y="457.80" width="16.20" height="3.80" rx="1.2" fill="#212121" filter="url(#bl1)"/>
<rect x="120.40" y="456.10" width="14.60" height="2.00" rx="0.8" fill="#949494" filter="url(#bl1)"/>
<rect x="136.50" y="452.90" width="16.20" height="3.20" rx="1.2" fill="#323232" filter="url(#bl1)"/>
<rect x="136.50" y="457.80" width="16.20" height="3.80" rx="1.2" fill="#212121" filter="url(#bl1)"/>
<rect x="137.30" y="456.10" width="14.60" height="2.00" rx="0.8" fill="#949494" filter="url(#bl1)"/>
<rect x="152.80" y="452.90" width="16.20" height="3.20" rx="1.2" fill="#323232" filter="url(#bl1)"/>
<rect x="152.80" y="457.80" width="16.20" height="3.80" rx="1.2" fill="#212121" filter="url(#bl1)"/>
<rect x="153.60" y="456.10" width="14.60" height="2.00" rx="0.8" fill="#949494" filter="url(#bl1)"/>
<rect x="169.10" y="452.90" width="16.20" height="3.20" rx="1.2" fill="#323232" filter="url(#bl1)"/>
<rect x="169.10" y="457.80" width="16.20" height="3.80" rx="1.2" fill="#212121" filter="url(#bl1)"/>
<rect x="169.90" y="456.10" width="14.60" height="2.00" rx="0.8" fill="#949494" filter="url(#bl1)"/>
<rect x="185.90" y="452.90" width="16.20" height="3.20" rx="1.2" fill="#323232" filter="url(#bl1)"/>
<rect x="185.90" y="457.80" width="16.20" height="3.80" rx="1.2" fill="#212121" filter="url(#bl1)"/>
<rect x="186.70" y="456.10" width="14.60" height="2.00" rx="0.8" fill="#949494" filter="url(#bl1)"/>
<rect x="202.90" y="452.90" width="16.20" height="3.20" rx="1.2" fill="#323232" filter="url(#bl1)"/>
<rect x="202.90" y="457.80" width="16.20" height="3.80" rx="1.2" fill="#212121" filter="url(#bl1)"/>
<rect x="203.70" y="456.10" width="14.60" height="2.00" rx="0.8" fill="#949494" filter="url(#bl1)"/>
<rect x="220.60" y="452.90" width="16.20" height="3.20" rx="1.2" fill="#838383" filter="url(#bl1)"/>
<rect x="220.60" y="457.80" width="16.20" height="3.80" rx="1.2" fill="#676767" filter="url(#bl1)"/>
<rect x="221.40" y="456.10" width="14.60" height="2.00" rx="0.8" fill="#b2b2b2" filter="url(#bl1)"/>
<text x="242.60" y="411.90" font-size="8.40" fill="#231f20" stroke="#231f20" stroke-width="0.22" textLength="19.40" lengthAdjust="spacingAndGlyphs" >IGF1R</text>
<text x="242.60" y="440.40" font-size="7.60" fill="#231f20" stroke="#231f20" stroke-width="0.22" textLength="19.80" lengthAdjust="spacingAndGlyphs" >p-ERK</text>
<text x="262.60" y="436.40" font-size="5.40" fill="#231f20" stroke="#231f20" stroke-width="0.06" textLength="26.40" lengthAdjust="spacingAndGlyphs" >T202/Y204</text>
<text x="242.60" y="460.20" font-size="7.80" fill="#231f20" stroke="#231f20" stroke-width="0.22" textLength="24.80" lengthAdjust="spacingAndGlyphs" >ERK 1/2</text>
<line x1="384.80" y1="369.40" x2="384.80" y2="456.10" stroke="#231f20" stroke-width="1.2" />
<line x1="382.00" y1="455.50" x2="384.80" y2="455.50" stroke="#231f20" stroke-width="1" />
<text x="379.40" y="458.40" font-size="8.00" fill="#231f20" stroke="#231f20" stroke-width="0.22" text-anchor="end" >0</text>
<line x1="382.00" y1="434.73" x2="384.80" y2="434.73" stroke="#231f20" stroke-width="1" />
<text x="379.40" y="437.62" font-size="8.00" fill="#231f20" stroke="#231f20" stroke-width="0.22" text-anchor="end" >30</text>
<line x1="382.00" y1="413.95" x2="384.80" y2="413.95" stroke="#231f20" stroke-width="1" />
<text x="379.40" y="416.85" font-size="8.00" fill="#231f20" stroke="#231f20" stroke-width="0.22" text-anchor="end" >60</text>
<line x1="382.00" y1="393.18" x2="384.80" y2="393.18" stroke="#231f20" stroke-width="1" />
<text x="379.40" y="396.07" font-size="8.00" fill="#231f20" stroke="#231f20" stroke-width="0.22" text-anchor="end" >90</text>
<line x1="382.00" y1="372.40" x2="384.80" y2="372.40" stroke="#231f20" stroke-width="1" />
<text x="379.40" y="375.30" font-size="8.00" fill="#231f20" stroke="#231f20" stroke-width="0.22" text-anchor="end" >120</text>
<line x1="384.20" y1="455.50" x2="510.50" y2="455.50" stroke="#231f20" stroke-width="1.2" />
<line x1="384.60" y1="455.50" x2="384.60" y2="458.60" stroke="#231f20" stroke-width="1" />
<text x="384.60" y="468.80" font-size="8.00" fill="#231f20" stroke="#231f20" stroke-width="0.22" text-anchor="middle" >0</text>
<line x1="409.35" y1="455.50" x2="409.35" y2="458.60" stroke="#231f20" stroke-width="1" />
<text x="409.35" y="468.80" font-size="8.00" fill="#231f20" stroke="#231f20" stroke-width="0.22" text-anchor="middle" >1</text>
<line x1="434.10" y1="455.50" x2="434.10" y2="458.60" stroke="#231f20" stroke-width="1" />
<text x="434.10" y="468.80" font-size="8.00" fill="#231f20" stroke="#231f20" stroke-width="0.22" text-anchor="middle" >2</text>
<line x1="458.85" y1="455.50" x2="458.85" y2="458.60" stroke="#231f20" stroke-width="1" />
<text x="458.85" y="468.80" font-size="8.00" fill="#231f20" stroke="#231f20" stroke-width="0.22" text-anchor="middle" >3</text>
<line x1="483.60" y1="455.50" x2="483.60" y2="458.60" stroke="#231f20" stroke-width="1" />
<text x="483.60" y="468.80" font-size="8.00" fill="#231f20" stroke="#231f20" stroke-width="0.22" text-anchor="middle" >4</text>
<line x1="508.35" y1="455.50" x2="508.35" y2="458.60" stroke="#231f20" stroke-width="1" />
<text x="508.35" y="468.80" font-size="8.00" fill="#231f20" stroke="#231f20" stroke-width="0.22" text-anchor="middle" >5</text>
<text x="415.8" y="481.9" font-size="9.3" fill="#231f20" textLength="64.6" lengthAdjust="spacingAndGlyphs">Log<tspan font-size="5.6" dy="2.2">10</tspan><tspan dy="-2.2"> conc. (nM)</tspan></text>
<text x="336.60" y="413.00" font-size="8.80" fill="#231f20" stroke="#231f20" stroke-width="0.22" text-anchor="middle" textLength="63.40" lengthAdjust="spacingAndGlyphs" transform="rotate(-90 336.60 413.00)" >% of viable cells</text>
<text x="348.40" y="412.10" font-size="8.80" fill="#231f20" stroke="#231f20" stroke-width="0.22" text-anchor="middle" textLength="98.60" lengthAdjust="spacingAndGlyphs" transform="rotate(-90 348.40 412.10)" >(DiOC6+ PI- CD19+ cells</text>
<text x="360.00" y="411.20" font-size="8.80" fill="#231f20" stroke="#231f20" stroke-width="0.22" text-anchor="middle" textLength="87.60" lengthAdjust="spacingAndGlyphs" transform="rotate(-90 360.00 411.20)" >normalized to DMSO)</text>
<path d="M384.60,391.85 L385.10,391.92 L385.59,392.00 L386.09,392.08 L386.58,392.16 L387.08,392.24 L387.57,392.32 L388.06,392.40 L388.56,392.48 L389.06,392.57 L389.55,392.65 L390.05,392.73 L390.54,392.82 L391.04,392.91 L391.53,392.99 L392.03,393.08 L392.52,393.17 L393.02,393.26 L393.51,393.35 L394.00,393.44 L394.50,393.53 L395.00,393.63 L395.49,393.72 L395.99,393.82 L396.48,393.91 L396.98,394.01 L397.47,394.11 L397.97,394.21 L398.46,394.31 L398.96,394.41 L399.45,394.51 L399.95,394.61 L400.44,394.71 L400.94,394.82 L401.43,394.92 L401.93,395.03 L402.42,395.14 L402.92,395.24 L403.41,395.35 L403.91,395.46 L404.40,395.57 L404.90,395.68 L405.39,395.80 L405.89,395.91 L406.38,396.03 L406.88,396.14 L407.37,396.26 L407.87,396.38 L408.36,396.50 L408.86,396.62 L409.35,396.74 L409.85,396.86 L410.34,396.98 L410.84,397.11 L411.33,397.23 L411.83,397.36 L412.32,397.48 L412.82,397.61 L413.31,397.74 L413.81,397.87 L414.30,398.00 L414.80,398.14 L415.29,398.27 L415.79,398.41 L416.28,398.54 L416.78,398.68 L417.27,398.82 L417.77,398.95 L418.26,399.10 L418.76,399.24 L419.25,399.38 L419.75,399.52 L420.24,399.67 L420.74,399.81 L421.23,399.96 L421.73,400.11 L422.22,400.26 L422.72,400.41 L423.21,400.56 L423.71,400.71 L424.20,400.86 L424.70,401.02 L425.19,401.17 L425.69,401.33 L426.18,401.49 L426.68,401.65 L427.17,401.81 L427.67,401.97 L428.16,402.13 L428.66,402.30 L429.15,402.46 L429.65,402.63 L430.14,402.79 L430.64,402.96 L431.13,403.13 L431.63,403.30 L432.12,403.47 L432.62,403.64 L433.11,403.82 L433.61,403.99 L434.10,404.17 L434.60,404.35 L435.09,404.52 L435.59,404.70 L436.08,404.88 L436.58,405.07 L437.07,405.25 L437.57,405.43 L438.06,405.62 L438.56,405.80 L439.05,405.99 L439.55,406.18 L440.04,406.37 L440.54,406.56 L441.03,406.75 L441.53,406.94 L442.02,407.13 L442.52,407.33 L443.01,407.52 L443.51,407.72 L444.00,407.92 L444.50,408.12 L444.99,408.32 L445.49,408.52 L445.98,408.72 L446.48,408.92 L446.97,409.13 L447.47,409.33 L447.96,409.54 L448.46,409.74 L448.95,409.95 L449.45,410.16 L449.94,410.37 L450.44,410.58 L450.93,410.79 L451.43,411.00 L451.92,411.22 L452.42,411.43 L452.91,411.65 L453.41,411.86 L453.90,412.08 L454.40,412.30 L454.89,412.52 L455.39,412.74 L455.88,412.96 L456.38,413.18 L456.87,413.40 L457.37,413.62 L457.86,413.85 L458.36,414.07 L458.85,414.29 L459.35,414.52 L459.84,414.75 L460.34,414.97 L460.83,415.20 L461.33,415.43 L461.82,415.66 L462.32,415.89 L462.81,416.12 L463.31,416.35 L463.80,416.58 L464.30,416.82 L464.79,417.05 L465.29,417.28 L465.78,417.52 L466.28,417.75 L466.77,417.99 L467.27,418.23 L467.76,418.46 L468.26,418.70 L468.75,418.94 L469.25,419.18 L469.74,419.41 L470.24,419.65 L470.73,419.89 L471.23,420.13 L471.72,420.37 L472.22,420.61 L472.71,420.85 L473.21,421.09 L473.70,421.34 L474.20,421.58 L474.69,421.82 L475.19,422.06 L475.68,422.31 L476.18,422.55 L476.67,422.79 L477.17,423.04 L477.66,423.28 L478.16,423.52 L478.65,423.77 L479.15,424.01 L479.64,424.26 L480.14,424.50 L480.63,424.74 L481.13,424.99 L481.62,425.23 L482.12,425.48 L482.61,425.72 L483.11,425.97 L483.60,426.21 L484.10,426.46 L484.59,426.70 L485.09,426.95 L485.58,427.19 L486.08,427.43 L486.57,427.68 L487.06,427.92 L487.56,428.17 L488.06,428.41 L488.55,428.65 L489.04,428.90 L489.54,429.14 L490.03,429.38 L490.53,429.62 L491.02,429.87 L491.52,430.11 L492.01,430.35 L492.51,430.59 L493.00,430.83 L493.50,431.07 L493.99,431.31 L494.49,431.55 L494.98,431.79 L495.48,432.03 L495.97,432.27 L496.47,432.51 L496.96,432.75 L497.46,432.98 L497.95,433.22 L498.45,433.46 L498.94,433.69 L499.44,433.93 L499.93,434.16 L500.43,434.39 L500.92,434.63" stroke="#c07a30" stroke-width="1.3" fill="none" />
<path d="M384.60,385.90 L385.10,385.90 L385.59,385.90 L386.09,385.90 L386.58,385.90 L387.08,385.90 L387.57,385.90 L388.06,385.90 L388.56,385.90 L389.06,385.90 L389.55,385.90 L390.05,385.90 L390.54,385.90 L391.04,385.90 L391.53,385.90 L392.03,385.90 L392.52,385.90 L393.02,385.90 L393.51,385.90 L394.00,385.90 L394.50,385.90 L395.00,385.90 L395.49,385.90 L395.99,385.90 L396.48,385.90 L396.98,385.91 L397.47,385.91 L397.97,385.91 L398.46,385.91 L398.96,385.91 L399.45,385.91 L399.95,385.91 L400.44,385.91 L400.94,385.91 L401.43,385.91 L401.93,385.91 L402.42,385.91 L402.92,385.91 L403.41,385.91 L403.91,385.91 L404.40,385.91 L404.90,385.91 L405.39,385.91 L405.89,385.91 L406.38,385.91 L406.88,385.91 L407.37,385.91 L407.87,385.91 L408.36,385.91 L408.86,385.91 L409.35,385.91 L409.85,385.91 L410.34,385.91 L410.84,385.91 L411.33,385.91 L411.83,385.91 L412.32,385.91 L412.82,385.91 L413.31,385.91 L413.81,385.91 L414.30,385.91 L414.80,385.91 L415.29,385.92 L415.79,385.92 L416.28,385.92 L416.78,385.92 L417.27,385.92 L417.77,385.92 L418.26,385.92 L418.76,385.92 L419.25,385.92 L419.75,385.92 L420.24,385.92 L420.74,385.93 L421.23,385.93 L421.73,385.93 L422.22,385.93 L422.72,385.93 L423.21,385.93 L423.71,385.94 L424.20,385.94 L424.70,385.94 L425.19,385.94 L425.69,385.94 L426.18,385.95 L426.68,385.95 L427.17,385.95 L427.67,385.96 L428.16,385.96 L428.66,385.96 L429.15,385.97 L429.65,385.97 L430.14,385.97 L430.64,385.98 L431.13,385.98 L431.63,385.99 L432.12,385.99 L432.62,386.00 L433.11,386.00 L433.61,386.01 L434.10,386.02 L434.60,386.02 L435.09,386.03 L435.59,386.04 L436.08,386.05 L436.58,386.06 L437.07,386.07 L437.57,386.08 L438.06,386.09 L438.56,386.10 L439.05,386.11 L439.55,386.12 L440.04,386.14 L440.54,386.15 L441.03,386.17 L441.53,386.18 L442.02,386.20 L442.52,386.22 L443.01,386.24 L443.51,386.26 L444.00,386.28 L444.50,386.30 L444.99,386.32 L445.49,386.35 L445.98,386.38 L446.48,386.41 L446.97,386.44 L447.47,386.47 L447.96,386.51 L448.46,386.54 L448.95,386.58 L449.45,386.62 L449.94,386.67 L450.44,386.71 L450.93,386.76 L451.43,386.81 L451.92,386.87 L452.42,386.93 L452.91,386.99 L453.41,387.06 L453.90,387.13 L454.40,387.20 L454.89,387.28 L455.39,387.36 L455.88,387.45 L456.38,387.55 L456.87,387.64 L457.37,387.75 L457.86,387.86 L458.36,387.98 L458.85,388.10 L459.35,388.23 L459.84,388.37 L460.34,388.52 L460.83,388.67 L461.33,388.84 L461.82,389.01 L462.32,389.20 L462.81,389.39 L463.31,389.59 L463.80,389.81 L464.30,390.04 L464.79,390.28 L465.29,390.53 L465.78,390.80 L466.28,391.08 L466.77,391.37 L467.27,391.69 L467.76,392.01 L468.26,392.36 L468.75,392.72 L469.25,393.10 L469.74,393.50 L470.24,393.92 L470.73,394.36 L471.23,394.82 L471.72,395.30 L472.22,395.80 L472.71,396.33 L473.21,396.88 L473.70,397.45 L474.20,398.05 L474.69,398.67 L475.19,399.31 L475.68,399.99 L476.18,400.69 L476.67,401.41 L477.17,402.16 L477.66,402.93 L478.16,403.74 L478.65,404.56 L479.15,405.41 L479.64,406.29 L480.14,407.19 L480.63,408.12 L481.13,409.07 L481.62,410.04 L482.12,411.03 L482.61,412.04 L483.11,413.07 L483.60,414.11 L484.10,415.18 L484.59,416.25 L485.09,417.34 L485.58,418.44 L486.08,419.55 L486.57,420.67 L487.06,421.79 L487.56,422.91 L488.06,424.03 L488.55,425.16 L489.04,426.28 L489.54,427.39 L490.03,428.50 L490.53,429.60 L491.02,430.69 L491.52,431.77 L492.01,432.83 L492.51,433.88 L493.00,434.91 L493.50,435.92 L493.99,436.91 L494.49,437.88 L494.98,438.83 L495.48,439.75 L495.97,440.65 L496.47,441.53 L496.96,442.38 L497.46,443.21 L497.95,444.01 L498.45,444.79 L498.94,445.53 L499.44,446.26 L499.93,446.96 L500.43,447.63 L500.92,448.28" stroke="#5aa6dc" stroke-width="1.3" fill="none" />
<path d="M384.60,394.92 L385.10,395.03 L385.59,395.14 L386.09,395.26 L386.58,395.37 L387.08,395.49 L387.57,395.60 L388.06,395.72 L388.56,395.84 L389.06,395.97 L389.55,396.09 L390.05,396.21 L390.54,396.34 L391.04,396.47 L391.53,396.59 L392.03,396.72 L392.52,396.86 L393.02,396.99 L393.51,397.12 L394.00,397.26 L394.50,397.40 L395.00,397.54 L395.49,397.68 L395.99,397.82 L396.48,397.96 L396.98,398.11 L397.47,398.25 L397.97,398.40 L398.46,398.55 L398.96,398.70 L399.45,398.86 L399.95,399.01 L400.44,399.17 L400.94,399.32 L401.43,399.48 L401.93,399.64 L402.42,399.80 L402.92,399.97 L403.41,400.13 L403.91,400.30 L404.40,400.47 L404.90,400.64 L405.39,400.81 L405.89,400.98 L406.38,401.16 L406.88,401.33 L407.37,401.51 L407.87,401.69 L408.36,401.87 L408.86,402.05 L409.35,402.24 L409.85,402.42 L410.34,402.61 L410.84,402.80 L411.33,402.99 L411.83,403.18 L412.32,403.38 L412.82,403.57 L413.31,403.77 L413.81,403.97 L414.30,404.17 L414.80,404.37 L415.29,404.57 L415.79,404.77 L416.28,404.98 L416.78,405.19 L417.27,405.40 L417.77,405.61 L418.26,405.82 L418.76,406.03 L419.25,406.25 L419.75,406.46 L420.24,406.68 L420.74,406.90 L421.23,407.12 L421.73,407.34 L422.22,407.56 L422.72,407.79 L423.21,408.01 L423.71,408.24 L424.20,408.47 L424.70,408.70 L425.19,408.93 L425.69,409.16 L426.18,409.40 L426.68,409.63 L427.17,409.87 L427.67,410.10 L428.16,410.34 L428.66,410.58 L429.15,410.82 L429.65,411.06 L430.14,411.31 L430.64,411.55 L431.13,411.79 L431.63,412.04 L432.12,412.29 L432.62,412.53 L433.11,412.78 L433.61,413.03 L434.10,413.28 L434.60,413.53 L435.09,413.79 L435.59,414.04 L436.08,414.29 L436.58,414.55 L437.07,414.80 L437.57,415.06 L438.06,415.31 L438.56,415.57 L439.05,415.83 L439.55,416.08 L440.04,416.34 L440.54,416.60 L441.03,416.86 L441.53,417.12 L442.02,417.38 L442.52,417.64 L443.01,417.90 L443.51,418.17 L444.00,418.43 L444.50,418.69 L444.99,418.95 L445.49,419.21 L445.98,419.48 L446.48,419.74 L446.97,420.00 L447.47,420.27 L447.96,420.53 L448.46,420.79 L448.95,421.05 L449.45,421.32 L449.94,421.58 L450.44,421.84 L450.93,422.11 L451.43,422.37 L451.92,422.63 L452.42,422.89 L452.91,423.15 L453.41,423.41 L453.90,423.67 L454.40,423.94 L454.89,424.20 L455.39,424.45 L455.88,424.71 L456.38,424.97 L456.87,425.23 L457.37,425.49 L457.86,425.74 L458.36,426.00 L458.85,426.26 L459.35,426.51 L459.84,426.77 L460.34,427.02 L460.83,427.27 L461.33,427.52 L461.82,427.78 L462.32,428.03 L462.81,428.28 L463.31,428.52 L463.80,428.77 L464.30,429.02 L464.79,429.26 L465.29,429.51 L465.78,429.75 L466.28,429.99 L466.77,430.24 L467.27,430.48 L467.76,430.72 L468.26,430.95 L468.75,431.19 L469.25,431.43 L469.74,431.66 L470.24,431.89 L470.73,432.13 L471.23,432.36 L471.72,432.59 L472.22,432.82 L472.71,433.04 L473.21,433.27 L473.70,433.49 L474.20,433.72 L474.69,433.94 L475.19,434.16 L475.68,434.38 L476.18,434.59 L476.67,434.81 L477.17,435.03 L477.66,435.24 L478.16,435.45 L478.65,435.66 L479.15,435.87 L479.64,436.08 L480.14,436.28 L480.63,436.49 L481.13,436.69 L481.62,436.89 L482.12,437.09 L482.61,437.29 L483.11,437.49 L483.60,437.68 L484.10,437.87 L484.59,438.07 L485.09,438.26 L485.58,438.45 L486.08,438.63 L486.57,438.82 L487.06,439.00 L487.56,439.19 L488.06,439.37 L488.55,439.55 L489.04,439.72 L489.54,439.90 L490.03,440.08 L490.53,440.25 L491.02,440.42 L491.52,440.59 L492.01,440.76 L492.51,440.92 L493.00,441.09 L493.50,441.25 L493.99,441.42 L494.49,441.58 L494.98,441.73 L495.48,441.89 L495.97,442.05 L496.47,442.20 L496.96,442.35 L497.46,442.51 L497.95,442.66 L498.45,442.80 L498.94,442.95 L499.44,443.10 L499.93,443.24 L500.43,443.38 L500.92,443.52" stroke="#b5263a" stroke-width="1.3" fill="none" />
<line x1="434.10" y1="377.94" x2="434.10" y2="386.25" stroke="#333" stroke-width="0.8" />
<line x1="432.70" y1="377.94" x2="435.50" y2="377.94" stroke="#333" stroke-width="0.8" />
<line x1="432.70" y1="386.25" x2="435.50" y2="386.25" stroke="#333" stroke-width="0.8" />
<rect x="432.50" y="380.50" width="3.20" height="3.20" fill="#5aa6dc" stroke="none" stroke-width="0" />
<line x1="451.43" y1="387.63" x2="451.43" y2="391.79" stroke="#333" stroke-width="0.8" />
<line x1="450.03" y1="387.63" x2="452.82" y2="387.63" stroke="#333" stroke-width="0.8" />
<line x1="450.03" y1="391.79" x2="452.82" y2="391.79" stroke="#333" stroke-width="0.8" />
<rect x="449.82" y="388.11" width="3.20" height="3.20" fill="#5aa6dc" stroke="none" stroke-width="0" />
<line x1="458.85" y1="386.25" x2="458.85" y2="390.40" stroke="#333" stroke-width="0.8" />
<line x1="457.45" y1="386.25" x2="460.25" y2="386.25" stroke="#333" stroke-width="0.8" />
<line x1="457.45" y1="390.40" x2="460.25" y2="390.40" stroke="#333" stroke-width="0.8" />
<rect x="457.25" y="386.73" width="3.20" height="3.20" fill="#5aa6dc" stroke="none" stroke-width="0" />
<line x1="476.18" y1="402.87" x2="476.18" y2="405.64" stroke="#333" stroke-width="0.8" />
<line x1="474.78" y1="402.87" x2="477.57" y2="402.87" stroke="#333" stroke-width="0.8" />
<line x1="474.78" y1="405.64" x2="477.57" y2="405.64" stroke="#333" stroke-width="0.8" />
<rect x="474.57" y="402.65" width="3.20" height="3.20" fill="#5aa6dc" stroke="none" stroke-width="0" />
<line x1="483.60" y1="410.49" x2="483.60" y2="416.03" stroke="#333" stroke-width="0.8" />
<line x1="482.20" y1="410.49" x2="485.00" y2="410.49" stroke="#333" stroke-width="0.8" />
<line x1="482.20" y1="416.03" x2="485.00" y2="416.03" stroke="#333" stroke-width="0.8" />
<rect x="482.00" y="411.66" width="3.20" height="3.20" fill="#5aa6dc" stroke="none" stroke-width="0" />
<line x1="500.93" y1="448.57" x2="500.93" y2="451.35" stroke="#333" stroke-width="0.8" />
<line x1="499.53" y1="448.57" x2="502.32" y2="448.57" stroke="#333" stroke-width="0.8" />
<line x1="499.53" y1="451.35" x2="502.32" y2="451.35" stroke="#333" stroke-width="0.8" />
<rect x="499.32" y="448.36" width="3.20" height="3.20" fill="#5aa6dc" stroke="none" stroke-width="0" />
<line x1="434.10" y1="400.79" x2="434.10" y2="406.33" stroke="#333" stroke-width="0.8" />
<line x1="432.70" y1="400.79" x2="435.50" y2="400.79" stroke="#333" stroke-width="0.8" />
<line x1="432.70" y1="406.33" x2="435.50" y2="406.33" stroke="#333" stroke-width="0.8" />
<circle cx="434.10" cy="403.56" r="1.6" fill="#c07a30"/>
<line x1="451.43" y1="409.10" x2="451.43" y2="413.26" stroke="#333" stroke-width="0.8" />
<line x1="450.03" y1="409.10" x2="452.82" y2="409.10" stroke="#333" stroke-width="0.8" />
<line x1="450.03" y1="413.26" x2="452.82" y2="413.26" stroke="#333" stroke-width="0.8" />
<circle cx="451.43" cy="411.18" r="1.6" fill="#c07a30"/>
<line x1="458.85" y1="413.26" x2="458.85" y2="414.64" stroke="#333" stroke-width="0.8" />
<line x1="457.45" y1="413.26" x2="460.25" y2="413.26" stroke="#333" stroke-width="0.8" />
<line x1="457.45" y1="414.64" x2="460.25" y2="414.64" stroke="#333" stroke-width="0.8" />
<circle cx="458.85" cy="413.95" r="1.6" fill="#c07a30"/>
<line x1="476.18" y1="421.84" x2="476.18" y2="423.23" stroke="#333" stroke-width="0.8" />
<line x1="474.78" y1="421.84" x2="477.57" y2="421.84" stroke="#333" stroke-width="0.8" />
<line x1="474.78" y1="423.23" x2="477.57" y2="423.23" stroke="#333" stroke-width="0.8" />
<circle cx="476.18" cy="422.54" r="1.6" fill="#c07a30"/>
<line x1="483.60" y1="421.78" x2="483.60" y2="427.32" stroke="#333" stroke-width="0.8" />
<line x1="482.20" y1="421.78" x2="485.00" y2="421.78" stroke="#333" stroke-width="0.8" />
<line x1="482.20" y1="427.32" x2="485.00" y2="427.32" stroke="#333" stroke-width="0.8" />
<circle cx="483.60" cy="424.55" r="1.6" fill="#c07a30"/>
<line x1="500.93" y1="436.11" x2="500.93" y2="437.50" stroke="#333" stroke-width="0.8" />
<line x1="499.53" y1="436.11" x2="502.32" y2="436.11" stroke="#333" stroke-width="0.8" />
<line x1="499.53" y1="437.50" x2="502.32" y2="437.50" stroke="#333" stroke-width="0.8" />
<circle cx="500.93" cy="436.80" r="1.6" fill="#c07a30"/>
<line x1="434.10" y1="414.23" x2="434.10" y2="419.77" stroke="#333" stroke-width="0.8" />
<line x1="432.70" y1="414.23" x2="435.50" y2="414.23" stroke="#333" stroke-width="0.8" />
<line x1="432.70" y1="419.77" x2="435.50" y2="419.77" stroke="#333" stroke-width="0.8" />
<path d="M432.40,418.30 L435.80,418.30 L434.10,415.30 Z" fill="#b5263a"/>
<path d="M449.73,427.02 L453.12,427.02 L451.43,424.02 Z" fill="#b5263a"/>
<line x1="458.85" y1="423.64" x2="458.85" y2="427.80" stroke="#333" stroke-width="0.8" />
<line x1="457.45" y1="423.64" x2="460.25" y2="423.64" stroke="#333" stroke-width="0.8" />
<line x1="457.45" y1="427.80" x2="460.25" y2="427.80" stroke="#333" stroke-width="0.8" />
<path d="M457.15,427.02 L460.55,427.02 L458.85,424.02 Z" fill="#b5263a"/>
<path d="M474.48,428.82 L477.88,428.82 L476.18,425.82 Z" fill="#b5263a"/>
<path d="M481.90,433.05 L485.30,433.05 L483.60,430.05 Z" fill="#b5263a"/>
<path d="M499.23,456.32 L502.62,456.32 L500.93,453.32 Z" fill="#b5263a"/>
<line x1="387.60" y1="427.60" x2="396.20" y2="427.60" stroke="#c07a30" stroke-width="1.4" />
<text x="398.70" y="430.10" font-size="7.40" fill="#231f20" stroke="#231f20" stroke-width="0.14" textLength="45.00" lengthAdjust="spacingAndGlyphs" >Idela (3.51&#956;M)</text>
<line x1="387.60" y1="438.20" x2="396.20" y2="438.20" stroke="#5aa6dc" stroke-width="1.4" />
<text x="398.70" y="440.70" font-size="7.40" fill="#231f20" stroke="#231f20" stroke-width="0.14" textLength="47.50" lengthAdjust="spacingAndGlyphs" >Linsi (11.76&#956;M)</text>
<line x1="387.60" y1="448.40" x2="396.20" y2="448.40" stroke="#b5263a" stroke-width="1.4" />
<text x="398.70" y="450.90" font-size="7.40" fill="#231f20" stroke="#231f20" stroke-width="0.14" textLength="50.00" lengthAdjust="spacingAndGlyphs" >Combi (0.39&#956;M)</text>
<line x1="40.40" y1="531.00" x2="40.40" y2="621.80" stroke="#231f20" stroke-width="1.2" />
<line x1="37.60" y1="621.20" x2="40.40" y2="621.20" stroke="#231f20" stroke-width="1" />
<text x="33.80" y="623.80" font-size="7.30" fill="#231f20" stroke="#231f20" stroke-width="0.14" text-anchor="end" >0</text>
<line x1="37.60" y1="603.76" x2="40.40" y2="603.76" stroke="#231f20" stroke-width="1" />
<text x="33.80" y="606.36" font-size="7.30" fill="#231f20" stroke="#231f20" stroke-width="0.14" text-anchor="end" >20</text>
<line x1="37.60" y1="586.32" x2="40.40" y2="586.32" stroke="#231f20" stroke-width="1" />
<text x="33.80" y="588.92" font-size="7.30" fill="#231f20" stroke="#231f20" stroke-width="0.14" text-anchor="end" >40</text>
<line x1="37.60" y1="568.88" x2="40.40" y2="568.88" stroke="#231f20" stroke-width="1" />
<text x="33.80" y="571.48" font-size="7.30" fill="#231f20" stroke="#231f20" stroke-width="0.14" text-anchor="end" >60</text>
<line x1="37.60" y1="551.44" x2="40.40" y2="551.44" stroke="#231f20" stroke-width="1" />
<text x="33.80" y="554.04" font-size="7.30" fill="#231f20" stroke="#231f20" stroke-width="0.14" text-anchor="end" >80</text>
<line x1="37.60" y1="534.00" x2="40.40" y2="534.00" stroke="#231f20" stroke-width="1" />
<text x="33.80" y="536.60" font-size="7.30" fill="#231f20" stroke="#231f20" stroke-width="0.14" text-anchor="end" >100</text>
<line x1="39.80" y1="621.20" x2="199.40" y2="621.20" stroke="#231f20" stroke-width="1.2" />
<line x1="40.40" y1="621.20" x2="40.40" y2="624.20" stroke="#231f20" stroke-width="1" />
<text x="40.40" y="634.20" font-size="7.80" fill="#231f20" stroke="#231f20" stroke-width="0.22" text-anchor="middle" >0</text>
<line x1="92.40" y1="621.20" x2="92.40" y2="624.20" stroke="#231f20" stroke-width="1" />
<text x="92.40" y="634.20" font-size="7.80" fill="#231f20" stroke="#231f20" stroke-width="0.22" text-anchor="middle" >10</text>
<line x1="144.40" y1="621.20" x2="144.40" y2="624.20" stroke="#231f20" stroke-width="1" />
<text x="144.40" y="634.20" font-size="7.80" fill="#231f20" stroke="#231f20" stroke-width="0.22" text-anchor="middle" >20</text>
<line x1="196.40" y1="621.20" x2="196.40" y2="624.20" stroke="#231f20" stroke-width="1" />
<text x="196.40" y="634.20" font-size="7.80" fill="#231f20" stroke="#231f20" stroke-width="0.22" text-anchor="middle" >30</text>
<text x="110.75" y="647.40" font-size="9.40" fill="#231f20" stroke="#231f20" stroke-width="0.22" textLength="18.75" lengthAdjust="spacingAndGlyphs" >Days</text>
<text x="16.30" y="576.00" font-size="8.80" fill="#231f20" stroke="#231f20" stroke-width="0.22" text-anchor="middle" textLength="48.60" lengthAdjust="spacingAndGlyphs" transform="rotate(-90 16.30 576.00)" >Survival [%]</text>
<text x="87.50" y="525.20" font-size="9.60" fill="#4a6c9f" stroke="#4a6c9f" stroke-width="0.22" textLength="65.00" lengthAdjust="spacingAndGlyphs" >iPI3K-&#948; sensitive</text>
<path d="M40.40,534.00 L97.60,534.00 L97.60,548.56 L102.80,548.56 L102.80,592.16 L108.00,592.16 L108.00,621.20" stroke="#5d2d6e" stroke-width="1.4" fill="none" stroke-linejoin="miter" stroke-linecap="square"/>
<path d="M40.40,534.00 L92.40,534.00 L92.40,548.56 L97.60,548.56 L97.60,592.16 L102.80,592.16 L102.80,606.64 L108.00,606.64 L108.00,621.20" stroke="#3a5b8e" stroke-width="1.4" fill="none" stroke-linejoin="miter" stroke-linecap="square"/>
<path d="M40.40,534.00 L154.80,534.00 L154.80,548.56 L160.00,548.56 L160.00,577.60 L165.20,577.60 L165.20,592.16 L175.60,592.16 L175.60,621.20" stroke="#6cb34b" stroke-width="1.4" fill="none" stroke-linejoin="miter" stroke-linecap="square"/>
<path d="M40.40,534.00 L160.00,534.00 L160.00,568.88 L165.20,568.88 L165.20,586.32 L170.40,586.32 L170.40,603.76 L175.60,603.76 L175.60,621.20" stroke="#b5283f" stroke-width="1.4" fill="none" stroke-linejoin="miter" stroke-linecap="square"/>
<line x1="167.30" y1="534.20" x2="175.00" y2="534.20" stroke="#5d2d6e" stroke-width="1.8" />
<line x1="171.15" y1="533.10" x2="171.15" y2="534.60" stroke="#222" stroke-width="0.8" />
<text x="178.30" y="536.70" font-size="7.60" fill="#231f20" stroke="#231f20" stroke-width="0.22" textLength="26.30" lengthAdjust="spacingAndGlyphs" >linsitinib</text>
<line x1="167.30" y1="542.70" x2="175.00" y2="542.70" stroke="#3a5b8e" stroke-width="1.8" />
<line x1="171.15" y1="541.60" x2="171.15" y2="543.10" stroke="#222" stroke-width="0.8" />
<text x="178.30" y="545.20" font-size="7.60" fill="#231f20" stroke="#231f20" stroke-width="0.22" textLength="22.50" lengthAdjust="spacingAndGlyphs" >vehicle</text>
<line x1="167.30" y1="550.80" x2="175.00" y2="550.80" stroke="#b5283f" stroke-width="1.8" />
<line x1="171.15" y1="549.70" x2="171.15" y2="551.20" stroke="#222" stroke-width="0.8" />
<text x="178.30" y="553.30" font-size="7.60" fill="#231f20" stroke="#231f20" stroke-width="0.22" textLength="23.60" lengthAdjust="spacingAndGlyphs" >iPI3K-&#948;</text>
<line x1="167.30" y1="559.00" x2="175.00" y2="559.00" stroke="#6cb34b" stroke-width="1.8" />
<line x1="171.15" y1="557.90" x2="171.15" y2="559.40" stroke="#222" stroke-width="0.8" />
<text x="178.30" y="561.50" font-size="7.60" fill="#231f20" stroke="#231f20" stroke-width="0.22" textLength="55.80" lengthAdjust="spacingAndGlyphs" >iPI3K-&#948; + linsitinib</text>
<line x1="242.30" y1="540.60" x2="242.30" y2="561.00" stroke="#333" stroke-width="1.0" />
<line x1="239.50" y1="540.60" x2="245.10" y2="540.60" stroke="#333" stroke-width="1.0" />
<line x1="239.50" y1="561.00" x2="245.10" y2="561.00" stroke="#333" stroke-width="1.0" />
<text x="244.20" y="555.50" font-size="7.50" fill="#231f20" stroke="#231f20" stroke-width="0.22" textLength="8.40" lengthAdjust="spacingAndGlyphs" >***</text>
<line x1="314.30" y1="527.60" x2="314.30" y2="621.80" stroke="#231f20" stroke-width="1.2" />
<line x1="311.50" y1="621.20" x2="314.30" y2="621.20" stroke="#231f20" stroke-width="1" />
<text x="307.70" y="623.80" font-size="7.30" fill="#231f20" stroke="#231f20" stroke-width="0.14" text-anchor="end" >0</text>
<line x1="311.50" y1="603.08" x2="314.30" y2="603.08" stroke="#231f20" stroke-width="1" />
<text x="307.70" y="605.68" font-size="7.30" fill="#231f20" stroke="#231f20" stroke-width="0.14" text-anchor="end" >20</text>
<line x1="311.50" y1="584.96" x2="314.30" y2="584.96" stroke="#231f20" stroke-width="1" />
<text x="307.70" y="587.56" font-size="7.30" fill="#231f20" stroke="#231f20" stroke-width="0.14" text-anchor="end" >40</text>
<line x1="311.50" y1="566.84" x2="314.30" y2="566.84" stroke="#231f20" stroke-width="1" />
<text x="307.70" y="569.44" font-size="7.30" fill="#231f20" stroke="#231f20" stroke-width="0.14" text-anchor="end" >60</text>
<line x1="311.50" y1="548.72" x2="314.30" y2="548.72" stroke="#231f20" stroke-width="1" />
<text x="307.70" y="551.32" font-size="7.30" fill="#231f20" stroke="#231f20" stroke-width="0.14" text-anchor="end" >80</text>
<line x1="311.50" y1="530.60" x2="314.30" y2="530.60" stroke="#231f20" stroke-width="1" />
<text x="307.70" y="533.20" font-size="7.30" fill="#231f20" stroke="#231f20" stroke-width="0.14" text-anchor="end" >100</text>
<line x1="313.70" y1="621.20" x2="473.30" y2="621.20" stroke="#231f20" stroke-width="1.2" />
<line x1="314.30" y1="621.20" x2="314.30" y2="624.20" stroke="#231f20" stroke-width="1" />
<text x="314.30" y="634.20" font-size="7.80" fill="#231f20" stroke="#231f20" stroke-width="0.22" text-anchor="middle" >0</text>
<line x1="366.30" y1="621.20" x2="366.30" y2="624.20" stroke="#231f20" stroke-width="1" />
<text x="366.30" y="634.20" font-size="7.80" fill="#231f20" stroke="#231f20" stroke-width="0.22" text-anchor="middle" >10</text>
<line x1="418.30" y1="621.20" x2="418.30" y2="624.20" stroke="#231f20" stroke-width="1" />
<text x="418.30" y="634.20" font-size="7.80" fill="#231f20" stroke="#231f20" stroke-width="0.22" text-anchor="middle" >20</text>
<line x1="470.30" y1="621.20" x2="470.30" y2="624.20" stroke="#231f20" stroke-width="1" />
<text x="470.30" y="634.20" font-size="7.80" fill="#231f20" stroke="#231f20" stroke-width="0.22" text-anchor="middle" >30</text>
<text x="384.80" y="647.40" font-size="9.40" fill="#231f20" stroke="#231f20" stroke-width="0.22" textLength="19.00" lengthAdjust="spacingAndGlyphs" >Days</text>
<text x="289.60" y="574.30" font-size="8.80" fill="#231f20" stroke="#231f20" stroke-width="0.22" text-anchor="middle" textLength="48.60" lengthAdjust="spacingAndGlyphs" transform="rotate(-90 289.60 574.30)" >Survival [%]</text>
<text x="362.50" y="521.30" font-size="9.60" fill="#b33a4e" stroke="#b33a4e" stroke-width="0.22" textLength="63.50" lengthAdjust="spacingAndGlyphs" >iPI3K-&#948; resistant</text>
<path d="M314.30,530.60 L397.50,530.60 L397.50,560.77 L407.90,560.77 L407.90,591.03 L413.10,591.03 L413.10,606.07 L418.30,606.07 L418.30,621.20" stroke="#6cb34b" stroke-width="1.4" fill="none" stroke-linejoin="miter" stroke-linecap="square"/>
<path d="M314.30,530.60 L371.50,530.60 L371.50,575.90 L381.90,575.90 L381.90,621.20" stroke="#b5283f" stroke-width="1.4" fill="none" stroke-linejoin="miter" stroke-linecap="square"/>
<path d="M314.30,530.60 L361.10,530.60 L361.10,545.73 L366.30,545.73 L366.30,591.03 L371.50,591.03 L371.50,621.20" stroke="#5d2d6e" stroke-width="1.4" fill="none" stroke-linejoin="miter" stroke-linecap="square"/>
<path d="M314.30,530.60 L361.10,530.60 L361.10,545.73 L366.30,545.73 L366.30,575.90 L371.50,575.90 L371.50,621.20" stroke="#3a5b8e" stroke-width="1.4" fill="none" stroke-linejoin="miter" stroke-linecap="square"/>
<line x1="403.50" y1="531.30" x2="411.20" y2="531.30" stroke="#5d2d6e" stroke-width="1.8" />
<line x1="407.35" y1="530.20" x2="407.35" y2="531.70" stroke="#222" stroke-width="0.8" />
<text x="414.50" y="533.80" font-size="7.60" fill="#231f20" stroke="#231f20" stroke-width="0.22" textLength="26.30" lengthAdjust="spacingAndGlyphs" >linsitinib</text>
<line x1="403.50" y1="539.60" x2="411.20" y2="539.60" stroke="#3a5b8e" stroke-width="1.8" />
<line x1="407.35" y1="538.50" x2="407.35" y2="540.00" stroke="#222" stroke-width="0.8" />
<text x="414.50" y="542.10" font-size="7.60" fill="#231f20" stroke="#231f20" stroke-width="0.22" textLength="22.50" lengthAdjust="spacingAndGlyphs" >vehicle</text>
<line x1="403.50" y1="547.80" x2="411.20" y2="547.80" stroke="#b5283f" stroke-width="1.8" />
<line x1="407.35" y1="546.70" x2="407.35" y2="548.20" stroke="#222" stroke-width="0.8" />
<text x="414.50" y="550.30" font-size="7.60" fill="#231f20" stroke="#231f20" stroke-width="0.22" textLength="23.60" lengthAdjust="spacingAndGlyphs" >iPI3K-&#948;</text>
<line x1="403.50" y1="556.00" x2="411.20" y2="556.00" stroke="#6cb34b" stroke-width="1.8" />
<line x1="407.35" y1="554.90" x2="407.35" y2="556.40" stroke="#222" stroke-width="0.8" />
<text x="414.50" y="558.50" font-size="7.60" fill="#231f20" stroke="#231f20" stroke-width="0.22" textLength="55.80" lengthAdjust="spacingAndGlyphs" >iPI3K-&#948; + linsitinib</text>
<line x1="478.30" y1="535.80" x2="478.30" y2="558.00" stroke="#333" stroke-width="1.0" />
<line x1="475.50" y1="535.80" x2="481.10" y2="535.80" stroke="#333" stroke-width="1.0" />
<line x1="475.50" y1="558.00" x2="481.10" y2="558.00" stroke="#333" stroke-width="1.0" />
<text x="479.90" y="552.30" font-size="7.50" fill="#231f20" stroke="#231f20" stroke-width="0.22" textLength="5.60" lengthAdjust="spacingAndGlyphs" >**</text>
<line x1="489.40" y1="545.40" x2="489.40" y2="558.80" stroke="#333" stroke-width="1.0" />
<line x1="486.60" y1="545.40" x2="492.20" y2="545.40" stroke="#333" stroke-width="1.0" />
<line x1="486.60" y1="558.80" x2="492.20" y2="558.80" stroke="#333" stroke-width="1.0" />
<text x="491.90" y="556.60" font-size="7.50" fill="#231f20" stroke="#231f20" stroke-width="0.22" textLength="8.40" lengthAdjust="spacingAndGlyphs" >***</text>
<rect x="518.85" y="1.7" width="1.15" height="655.3" fill="#000"/>
<rect x="1.7" y="655.65" width="518.3" height="1.35" fill="#000"/>
<rect x="0" y="0" width="1.75" height="657" fill="#505050"/>
<rect x="0" y="0" width="520" height="1.7" fill="#505050"/>
</svg></div></body></html>
